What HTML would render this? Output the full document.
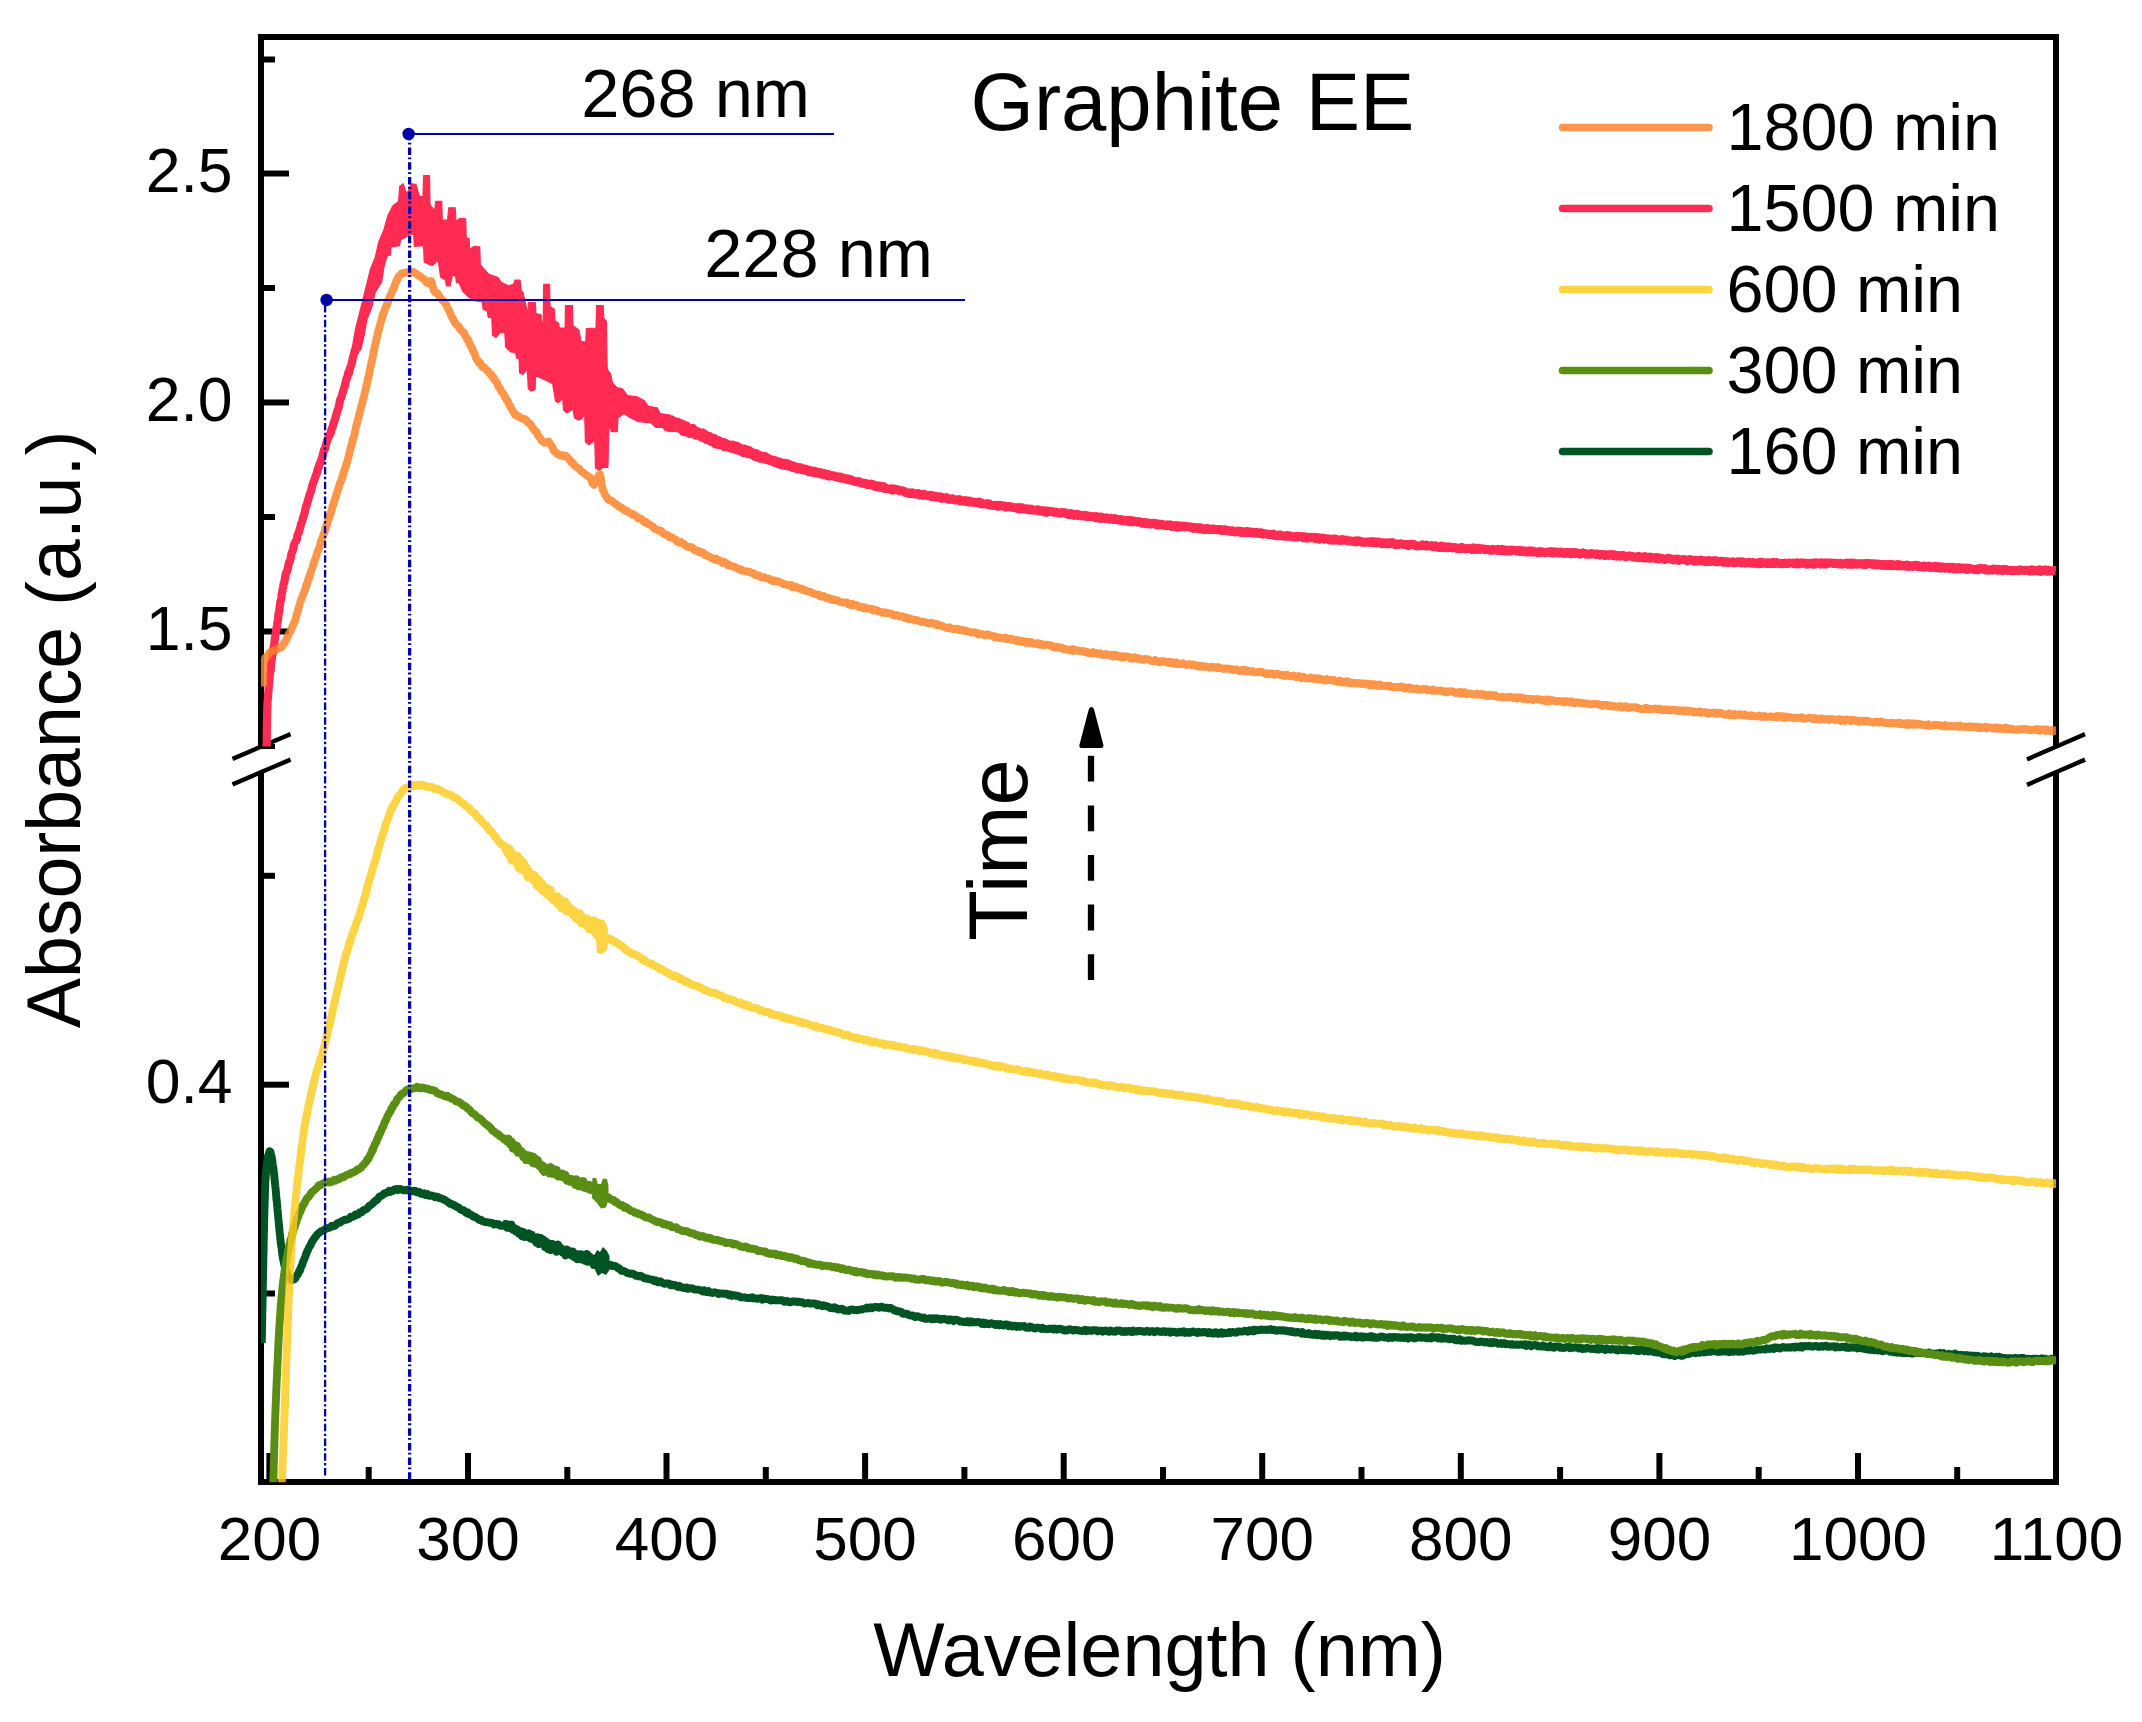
<!DOCTYPE html>
<html lang="en"><head><meta charset="utf-8"><title>Graphite EE absorbance</title>
<style>html,body{margin:0;padding:0;background:#fff}svg{display:block}</style></head>
<body>
<svg width="2142" height="1722" viewBox="0 0 2142 1722" font-family="'Liberation Sans', Arial, sans-serif" fill="#000">
<rect width="2142" height="1722" fill="#fff"/>
<g stroke="#000" stroke-width="6" fill="none" stroke-linecap="butt">
<path d="M261,749 V37 H2056 V747"/>
<path d="M261,771 V1482 H2056 V772"/>
<path d="M258,37 H2059 M258,1482 H2059"/>
<path d="M264,59.5 H275"/>
<path d="M264,173.5 H289"/>
<path d="M264,288 H275"/>
<path d="M264,402.5 H289"/>
<path d="M264,517 H275"/>
<path d="M264,631.5 H289"/>
<path d="M264,746.5 H275" stroke-width="5"/>
<path d="M264,875.8 H275"/>
<path d="M264,1084.7 H289"/>
<path d="M264,1293.5 H275"/>
<path d="M269.4,1479 V1453"/>
<path d="M368.7,1479 V1467"/>
<path d="M468.0,1479 V1453"/>
<path d="M567.3,1479 V1467"/>
<path d="M666.5,1479 V1453"/>
<path d="M765.8,1479 V1467"/>
<path d="M865.1,1479 V1453"/>
<path d="M964.4,1479 V1467"/>
<path d="M1063.7,1479 V1453"/>
<path d="M1163.0,1479 V1467"/>
<path d="M1262.2,1479 V1453"/>
<path d="M1361.5,1479 V1467"/>
<path d="M1460.8,1479 V1453"/>
<path d="M1560.1,1479 V1467"/>
<path d="M1659.4,1479 V1453"/>
<path d="M1758.7,1479 V1467"/>
<path d="M1858.0,1479 V1453"/>
<path d="M1957.2,1479 V1467"/>
</g>
<g stroke="#000" stroke-width="4.4" stroke-linecap="square">
<path d="M234.5,758 L288.5,735 M234.5,783.5 L288.5,760.5"/>
<path d="M2029,758.5 L2083,735 M2029,784 L2083,760.5"/>
</g>
<defs><clipPath id="cp"><rect x="261" y="30" width="1795" height="1455"/></clipPath></defs>
<g clip-path="url(#cp)">
<polyline points="261.8,1342.9 261.8,1341.3 261.8,1340.8 261.9,1339.7 261.9,1338.6 261.9,1338.0 261.9,1336.4 261.9,1334.6 262.0,1334.0 262.0,1333.0 262.0,1332.0 262.0,1331.3 262.0,1329.4 262.1,1328.1 262.1,1327.3 262.1,1326.7 262.1,1325.5 262.1,1324.2 262.2,1323.1 262.2,1322.4 262.2,1321.6 262.2,1319.8 262.3,1318.2 262.3,1317.8 262.3,1316.5 262.3,1315.1 262.3,1315.1 262.3,1314.0 262.3,1312.9 262.4,1311.4 262.4,1310.1 262.4,1309.1 262.4,1308.6 262.5,1307.5 262.5,1306.3 262.5,1305.7 262.5,1304.5 262.5,1302.9 262.6,1301.9 262.6,1300.9 262.6,1299.9 262.6,1298.7 262.6,1297.7 262.7,1297.2 262.7,1295.6 262.7,1294.1 262.7,1293.3 262.8,1291.9 262.8,1290.4 262.8,1290.0 262.8,1288.6 262.8,1286.6 262.9,1285.8 262.9,1284.5 262.9,1283.8 262.9,1282.3 263.0,1280.4 263.0,1280.2 263.0,1278.9 263.0,1277.6 263.0,1276.8 263.1,1276.1 263.1,1275.0 263.1,1273.8 263.1,1273.1 263.1,1271.1 263.2,1270.9 263.2,1269.9 263.2,1268.3 263.2,1267.6 263.2,1266.5 263.3,1265.5 263.3,1264.8 263.3,1263.5 263.3,1262.2 263.3,1260.8 263.4,1260.2 263.4,1259.1 263.4,1257.1 263.4,1256.2 263.4,1255.1 263.5,1254.0 263.5,1253.8 263.5,1252.5 263.5,1251.9 263.6,1250.4 263.6,1249.4 263.6,1248.3 263.6,1247.3 263.6,1246.5 263.6,1245.4 263.7,1244.3 263.7,1243.8 263.7,1242.1 263.7,1240.8 263.8,1239.5 263.8,1239.5 263.8,1238.3 263.8,1237.2 263.8,1236.2 263.9,1235.2 263.9,1234.8 263.9,1233.6 263.9,1232.3 263.9,1231.6 264.0,1230.5 264.0,1229.8 264.0,1228.4 264.1,1227.2 264.1,1226.0 264.1,1224.9 264.1,1223.9 264.1,1222.5 264.2,1222.1 264.2,1220.9 264.2,1219.6 264.2,1218.3 264.3,1217.1 264.3,1215.9 264.3,1214.6 264.4,1213.8 264.4,1212.7 264.4,1211.0 264.5,1209.3 264.5,1208.8 264.5,1207.4 264.6,1206.5 264.6,1205.9 264.6,1204.3 264.7,1202.7 264.7,1201.6 264.7,1200.4 264.8,1199.3 264.8,1198.1 264.8,1198.2 264.9,1196.7 264.9,1195.6 264.9,1194.1 265.0,1192.2 265.0,1190.9 265.1,1189.2 265.1,1188.8 265.1,1187.7 265.2,1186.6 265.2,1185.4 265.3,1184.3 265.3,1183.0 265.4,1182.1 265.4,1180.3 265.5,1179.0 265.6,1178.0 265.7,1176.7 265.8,1175.9 265.8,1174.1 265.9,1174.2 266.0,1172.6 266.1,1171.6 266.1,1170.6 266.3,1169.4 266.4,1168.3 266.5,1167.1 266.6,1165.4 266.8,1165.3 266.9,1164.2 267.0,1163.2 267.1,1162.1 267.3,1160.9 267.5,1158.9 267.7,1157.7 268.0,1156.5 268.3,1154.9 268.6,1154.3 269.0,1153.2 269.3,1152.2 269.6,1151.2 270.5,1151.9 270.7,1152.9 270.8,1154.0 271.0,1155.1 271.4,1156.1 271.7,1156.8 271.9,1158.8 272.1,1159.3 272.3,1160.3 272.4,1161.4 272.6,1163.3 272.7,1164.4 272.9,1165.4 273.1,1166.0 273.3,1167.4 273.5,1168.3 273.5,1169.5 273.6,1170.6 273.8,1171.5 273.9,1173.2 274.1,1173.7 274.2,1174.8 274.3,1176.0 274.4,1177.1 274.5,1178.7 274.6,1179.8 274.8,1181.1 274.9,1182.4 275.0,1183.6 275.2,1184.1 275.3,1185.8 275.4,1186.8 275.5,1187.5 275.6,1188.8 275.7,1190.4 275.9,1191.6 276.0,1193.6 276.1,1195.2 276.2,1195.6 276.3,1197.6 276.4,1198.9 276.5,1200.0 276.7,1200.3 276.8,1201.2 276.9,1202.5 277.0,1203.6 277.1,1205.0 277.2,1206.0 277.3,1207.0 277.4,1208.8 277.5,1210.0 277.6,1210.8 277.8,1212.4 277.9,1214.0 278.0,1214.1 278.1,1215.1 278.1,1216.2 278.2,1217.8 278.4,1218.8 278.5,1219.9 278.6,1220.7 278.7,1221.4 278.7,1222.5 278.8,1223.6 278.9,1224.2 279.0,1225.2 279.1,1226.3 279.2,1227.9 279.3,1228.3 279.4,1229.6 279.5,1230.7 279.6,1231.8 279.7,1232.8 279.8,1233.3 280.0,1234.6 280.1,1236.0 280.2,1237.3 280.3,1238.6 280.4,1239.8 280.6,1240.1 280.7,1241.3 280.7,1242.4 280.9,1243.9 281.0,1244.6 281.2,1245.3 281.3,1246.8 281.5,1247.4 281.7,1248.5 281.8,1249.9 281.8,1251.3 282.0,1252.1 282.2,1253.2 282.4,1255.1 282.6,1255.7 282.7,1256.8 282.8,1257.9 283.1,1259.2 283.3,1259.7 283.5,1261.0 283.8,1262.3 284.0,1263.4 284.3,1265.2 284.7,1266.1 285.0,1267.7 285.4,1268.7 285.7,1270.1 286.0,1271.6 286.6,1272.4 287.2,1273.9 287.9,1275.4 288.5,1276.7 289.1,1277.9 290.3,1278.6 291.5,1280.2 292.8,1279.7 294.0,1279.4 295.2,1278.4 295.8,1277.2 296.4,1276.0 297.7,1274.6 298.3,1273.3 298.9,1271.9 299.5,1270.3 300.1,1270.3 300.4,1269.0 300.7,1267.8 301.3,1266.7 301.9,1265.5 302.5,1263.6 302.8,1262.6 303.1,1261.6 303.8,1260.2 304.5,1258.5 305.2,1257.1 305.5,1255.9 305.7,1254.7 306.2,1254.2 306.7,1252.4 307.2,1251.2 307.7,1250.7 308.3,1249.1 309.1,1247.4 309.9,1246.0 310.8,1244.7 311.2,1243.5 311.6,1242.4 312.5,1241.2 313.4,1239.6 314.3,1238.3 315.3,1237.2 316.2,1235.9 317.2,1234.5 318.2,1233.6 319.2,1232.7 320.3,1231.9 321.3,1231.1 322.4,1230.7 323.5,1230.4 324.6,1229.6 325.7,1228.8 326.9,1228.5 328.0,1228.1 329.2,1227.7 330.4,1227.4 331.6,1225.9 332.9,1226.0 334.2,1226.1 335.5,1225.4 336.9,1223.6 338.4,1222.9 339.9,1222.7 341.5,1221.3 343.0,1220.8 344.6,1219.7 346.1,1219.9 347.7,1219.3 349.2,1218.7 350.8,1216.8 352.3,1217.0 353.8,1216.2 355.3,1214.6 356.8,1215.0 358.4,1214.3 359.1,1213.3 359.9,1212.3 361.5,1212.4 363.0,1210.6 364.6,1209.6 366.2,1209.3 367.7,1208.0 368.5,1206.9 369.2,1205.8 370.7,1205.1 372.1,1204.1 373.4,1202.7 374.7,1201.4 375.9,1200.5 377.1,1200.0 377.9,1198.9 378.7,1197.8 379.4,1196.7 380.6,1196.2 381.8,1195.7 383.0,1194.7 384.2,1193.3 385.5,1193.1 386.7,1192.9 387.9,1192.2 389.2,1190.9 390.4,1191.9 391.6,1191.2 392.8,1191.1 394.0,1189.5 395.2,1189.5 396.4,1189.0 397.7,1190.1 398.9,1189.2 400.1,1188.9 401.3,1189.4 402.5,1189.8 403.6,1190.2 404.8,1190.3 405.9,1190.3 407.1,1189.6 408.3,1189.6 409.7,1191.1 411.1,1190.8 412.8,1191.4 414.4,1190.8 415.6,1191.0 416.9,1192.4 418.1,1192.2 419.4,1192.0 420.7,1193.7 421.9,1193.6 423.2,1194.2 424.4,1193.4 425.7,1195.0 427.4,1194.1 429.2,1195.8 430.9,1195.5 432.5,1195.7 433.7,1196.3 434.9,1197.3 436.1,1196.5 437.6,1196.8 439.0,1198.0 440.4,1198.1 441.7,1198.5 443.0,1199.2 444.3,1199.6 445.5,1200.5 447.0,1201.5 448.4,1202.2 449.9,1203.8 451.3,1203.8 452.5,1204.8 453.7,1205.0 454.9,1205.9 456.1,1206.1 457.3,1207.1 458.8,1207.5 460.3,1209.5 461.8,1210.0 463.3,1210.2 464.8,1211.4 466.2,1213.0 467.7,1212.4 469.1,1214.3 470.6,1214.5 472.0,1215.4 473.5,1216.8 475.0,1216.8 476.4,1217.8 477.9,1218.8 479.4,1220.0 480.8,1219.7 482.3,1221.1 483.8,1221.5 485.2,1222.0 486.7,1222.2 488.2,1222.5 489.6,1222.4 491.1,1222.9 492.5,1223.2 494.0,1224.5 495.4,1223.9 496.9,1224.0 498.3,1224.1 499.8,1225.5 501.3,1225.8 502.7,1225.7 504.2,1226.0 505.6,1223.8 507.1,1227.7 508.5,1224.6 510.0,1227.9 511.5,1224.7 512.9,1229.6 514.4,1228.2 515.8,1231.4 517.3,1229.4 518.8,1233.7 520.2,1231.2 521.7,1236.2 523.2,1231.9 524.6,1237.0 526.1,1233.4 527.6,1236.8 529.0,1233.4 530.5,1238.5 531.9,1234.8 533.4,1239.5 534.9,1237.8 536.3,1242.6 537.8,1237.3 539.2,1244.1 540.7,1237.9 542.1,1243.4 543.6,1239.7 545.0,1246.9 546.5,1241.9 548.0,1249.0 549.4,1243.8 550.9,1250.1 552.3,1243.9 553.8,1247.9 555.2,1246.2 556.7,1251.8 558.2,1244.6 559.6,1250.8 561.1,1248.0 562.6,1252.7 564.1,1249.8 565.6,1255.5 567.1,1249.5 568.5,1253.9 570.0,1251.2 571.5,1255.4 572.9,1251.5 574.4,1257.3 575.8,1253.9 577.3,1259.1 578.7,1254.2 580.1,1259.3 581.5,1254.4 582.9,1259.7 584.3,1255.8 585.7,1261.0 587.1,1254.0 588.4,1261.8 589.8,1256.6 591.2,1261.2 592.5,1259.8 593.8,1264.9 595.1,1258.5 596.4,1263.8 598.0,1262.5 599.5,1262.7 601.1,1262.4 602.4,1264.0 603.8,1264.3 605.1,1264.3 606.9,1264.7 608.7,1265.3 610.3,1264.7 611.9,1266.1 613.5,1265.8 615.1,1266.0 616.5,1266.9 617.9,1268.3 619.1,1268.2 620.3,1269.7 621.7,1270.8 623.0,1270.8 624.3,1271.2 625.5,1271.8 626.7,1272.7 628.0,1273.2 629.2,1273.4 630.5,1273.9 631.7,1273.4 633.2,1274.0 634.7,1274.6 636.2,1275.8 637.7,1275.6 638.9,1276.4 640.2,1275.8 641.5,1276.3 642.7,1277.0 644.0,1278.0 645.2,1278.4 646.4,1278.7 647.7,1278.4 648.9,1279.1 650.1,1279.3 651.6,1279.7 653.0,1279.6 654.5,1281.2 655.9,1280.5 657.4,1282.1 658.8,1282.4 660.3,1281.3 661.8,1282.4 663.2,1283.3 664.7,1283.9 666.1,1283.4 667.6,1283.5 669.0,1283.7 670.5,1285.2 671.9,1284.4 673.4,1285.3 674.9,1284.9 676.3,1285.9 677.8,1286.9 679.2,1285.9 680.7,1287.3 682.2,1287.1 683.6,1288.0 685.1,1288.0 686.6,1287.5 688.0,1288.9 689.5,1288.5 691.0,1288.1 692.4,1288.3 693.9,1289.4 695.3,1289.6 696.8,1289.6 698.3,1289.6 699.7,1290.1 701.2,1290.3 702.6,1291.4 704.1,1290.3 705.5,1291.7 707.0,1292.1 708.5,1291.1 709.9,1292.6 711.4,1292.5 712.8,1293.0 714.3,1292.2 715.7,1292.6 717.2,1292.8 718.6,1294.0 720.1,1293.5 721.6,1293.4 723.0,1293.7 724.5,1293.7 725.9,1293.6 727.4,1293.9 728.8,1295.3 730.3,1294.6 731.7,1295.9 733.2,1295.0 734.7,1295.3 736.1,1295.9 737.6,1295.6 739.0,1296.1 740.5,1297.2 741.9,1297.3 743.4,1297.4 744.9,1297.3 746.3,1297.9 747.8,1298.1 749.2,1297.7 750.7,1298.1 752.2,1297.2 753.6,1298.4 755.1,1298.1 756.6,1298.7 758.0,1298.7 759.5,1298.3 761.0,1298.0 762.4,1299.6 763.9,1298.4 765.3,1299.1 766.8,1299.0 768.3,1299.1 769.7,1300.0 771.2,1300.5 772.6,1299.5 774.1,1300.3 775.5,1299.9 777.0,1300.4 778.4,1300.3 779.9,1300.1 781.4,1300.2 782.8,1300.4 784.3,1301.7 785.7,1301.2 787.2,1300.9 788.6,1302.1 790.1,1302.4 791.6,1301.6 793.0,1301.3 794.5,1301.5 795.9,1301.5 797.4,1302.0 798.9,1301.7 800.3,1302.1 801.8,1302.2 803.3,1302.9 804.7,1303.5 806.2,1303.4 807.7,1303.0 809.1,1303.2 810.6,1303.6 812.0,1303.5 813.5,1303.6 814.7,1303.4 815.9,1304.0 817.2,1305.3 818.4,1304.2 819.6,1305.0 820.9,1305.4 822.1,1306.1 823.4,1305.3 824.6,1305.7 825.9,1305.9 827.4,1306.5 828.8,1306.9 830.3,1308.0 831.8,1308.1 833.0,1308.4 834.3,1307.3 835.5,1307.6 836.8,1308.9 838.0,1309.5 839.3,1309.0 840.5,1309.4 842.0,1308.7 843.4,1309.6 844.6,1310.6 845.8,1310.6 847.2,1310.7 848.5,1311.0 849.9,1309.8 851.4,1309.5 852.8,1309.5 854.2,1310.0 855.7,1310.1 857.1,1310.4 858.7,1309.8 860.2,1309.5 861.8,1309.5 863.5,1308.8 865.2,1308.6 866.9,1307.5 868.7,1308.4 870.5,1307.3 871.7,1308.3 873.0,1307.7 874.2,1307.1 875.5,1306.8 876.8,1307.0 878.1,1307.6 879.5,1307.7 880.8,1306.8 882.2,1306.8 883.6,1307.7 885.0,1307.9 886.4,1307.7 887.7,1307.7 889.1,1308.5 890.5,1307.8 891.8,1308.7 893.2,1309.3 894.5,1310.5 895.9,1310.5 897.2,1311.4 898.6,1311.3 899.9,1311.5 901.3,1312.0 902.6,1313.7 904.1,1313.8 905.5,1313.6 906.9,1313.6 908.4,1314.8 910.0,1315.5 911.5,1315.5 912.7,1315.5 913.9,1316.4 915.1,1317.1 916.3,1316.2 917.9,1316.2 919.5,1317.0 921.1,1317.5 922.6,1318.1 924.0,1317.6 925.5,1318.8 927.0,1318.8 928.4,1318.6 930.4,1318.1 931.9,1319.3 933.5,1318.3 934.8,1319.2 936.1,1318.3 937.4,1318.4 938.7,1319.3 940.0,1318.7 941.2,1319.8 942.4,1319.2 943.6,1318.8 944.9,1319.0 946.1,1319.4 947.3,1319.9 948.5,1320.5 949.7,1319.3 950.9,1319.9 952.2,1319.7 953.5,1321.0 954.8,1319.8 956.1,1319.8 957.3,1320.0 958.6,1320.6 959.9,1321.5 961.2,1321.6 962.4,1321.5 963.7,1322.1 965.0,1322.1 966.2,1321.3 967.4,1321.1 968.6,1322.5 969.8,1322.3 971.0,1321.3 972.2,1322.4 973.4,1322.0 974.7,1322.2 975.9,1322.2 977.1,1322.1 978.3,1321.9 979.5,1322.5 980.7,1322.7 981.9,1323.8 983.1,1322.6 984.3,1324.0 985.6,1322.9 986.8,1323.3 988.0,1324.1 989.2,1324.2 990.4,1323.7 991.6,1323.2 992.9,1324.0 994.1,1324.0 995.3,1325.0 996.5,1323.9 997.7,1324.3 998.9,1325.3 1000.2,1324.0 1001.4,1324.7 1002.6,1325.4 1003.8,1325.5 1005.1,1324.4 1006.3,1324.5 1007.5,1324.7 1008.7,1326.2 1010.0,1325.2 1011.2,1326.1 1012.4,1326.5 1013.7,1325.7 1015.0,1325.7 1016.3,1326.9 1017.6,1326.5 1018.8,1326.0 1020.1,1326.8 1021.4,1326.3 1022.7,1326.4 1024.0,1326.0 1025.3,1327.4 1026.5,1327.7 1027.8,1327.4 1029.1,1328.0 1030.3,1326.6 1031.5,1327.1 1032.8,1327.5 1034.0,1328.4 1035.2,1328.5 1036.4,1327.7 1037.6,1327.6 1038.8,1327.9 1040.1,1328.1 1041.3,1328.9 1042.5,1327.8 1043.7,1328.9 1044.9,1328.9 1046.1,1329.2 1047.3,1329.1 1048.5,1329.0 1049.7,1328.6 1051.0,1328.7 1052.2,1328.8 1053.4,1329.5 1054.6,1328.5 1055.8,1328.8 1057.0,1329.7 1058.2,1329.0 1059.4,1328.8 1060.6,1328.8 1061.8,1329.7 1063.0,1329.4 1064.3,1330.5 1065.6,1330.4 1066.8,1330.6 1068.1,1329.5 1069.4,1329.3 1070.7,1329.4 1072.0,1330.1 1073.2,1330.5 1074.5,1330.1 1075.8,1329.8 1077.1,1330.1 1078.4,1330.5 1079.6,1330.7 1080.9,1330.8 1082.2,1331.0 1083.5,1330.7 1084.8,1329.9 1086.1,1331.1 1087.3,1330.2 1088.6,1330.7 1089.9,1330.4 1091.2,1331.0 1092.5,1330.2 1093.7,1330.3 1095.0,1330.3 1096.3,1330.2 1097.6,1331.4 1098.9,1330.9 1100.1,1330.6 1101.4,1330.7 1102.7,1331.7 1104.0,1330.9 1105.3,1330.5 1106.5,1331.4 1107.8,1331.2 1109.1,1331.8 1110.4,1330.4 1111.7,1331.0 1113.0,1331.5 1114.2,1331.6 1115.5,1331.7 1116.8,1330.4 1118.1,1330.8 1119.4,1330.5 1120.6,1330.7 1121.9,1331.9 1123.2,1331.3 1124.5,1331.9 1125.8,1331.0 1127.0,1331.8 1128.3,1331.2 1129.6,1330.9 1130.9,1331.8 1132.1,1332.1 1133.4,1330.7 1134.6,1331.5 1135.9,1331.6 1137.1,1331.0 1138.4,1331.2 1139.6,1330.9 1140.9,1331.0 1142.1,1331.1 1143.4,1331.7 1144.7,1331.8 1145.9,1331.1 1147.2,1330.8 1148.4,1331.3 1149.6,1331.9 1150.8,1331.1 1152.0,1331.4 1153.2,1331.2 1154.4,1332.2 1155.7,1331.8 1156.9,1331.0 1158.1,1331.1 1159.3,1331.6 1160.5,1331.9 1161.7,1332.0 1162.9,1331.2 1164.1,1331.3 1165.3,1332.2 1166.6,1331.7 1167.8,1331.5 1169.0,1331.6 1170.2,1332.7 1171.4,1331.6 1172.6,1332.1 1173.8,1331.7 1175.0,1331.9 1176.2,1332.6 1177.4,1332.8 1178.7,1331.8 1179.9,1331.6 1181.1,1332.4 1182.3,1331.6 1183.5,1331.3 1184.8,1332.8 1186.1,1332.0 1187.3,1332.7 1188.6,1332.0 1189.8,1332.8 1191.1,1332.2 1192.3,1331.7 1193.6,1331.5 1194.8,1332.4 1196.1,1332.5 1197.5,1333.0 1198.8,1331.7 1200.2,1332.6 1201.5,1332.2 1202.9,1332.5 1204.2,1331.9 1205.6,1332.2 1206.8,1332.6 1208.1,1333.3 1209.4,1332.1 1210.6,1332.7 1211.9,1333.3 1213.2,1333.6 1214.4,1332.4 1215.7,1332.3 1217.0,1333.6 1218.4,1333.7 1219.8,1332.9 1221.3,1332.2 1222.7,1333.6 1224.1,1332.7 1225.4,1333.4 1226.8,1332.9 1228.2,1333.2 1229.5,1332.0 1230.9,1332.9 1232.3,1331.9 1233.7,1332.1 1235.1,1332.7 1236.5,1332.6 1237.8,1331.4 1239.2,1331.4 1240.5,1331.6 1241.9,1331.6 1243.2,1331.3 1244.4,1330.8 1245.6,1330.9 1246.9,1331.6 1248.1,1331.7 1249.3,1330.3 1250.5,1331.0 1251.7,1331.2 1252.9,1329.9 1254.2,1331.1 1255.5,1329.8 1256.8,1330.4 1258.2,1330.1 1259.6,1330.1 1261.0,1329.5 1262.4,1329.6 1263.8,1329.8 1265.2,1329.6 1266.6,1330.0 1268.0,1329.6 1269.3,1329.7 1270.6,1329.1 1271.8,1330.1 1273.1,1330.0 1274.4,1329.7 1275.7,1330.6 1277.0,1330.8 1278.3,1330.4 1279.6,1330.1 1280.9,1330.6 1282.2,1330.2 1283.5,1330.3 1284.8,1330.9 1286.1,1330.5 1287.4,1331.2 1288.7,1331.5 1290.1,1330.9 1291.4,1332.0 1292.7,1331.2 1294.1,1332.4 1295.3,1332.6 1296.5,1332.3 1297.7,1331.7 1298.9,1332.5 1300.1,1332.5 1301.3,1333.5 1302.5,1332.3 1303.8,1333.6 1305.0,1334.0 1306.3,1333.7 1307.5,1334.0 1308.8,1333.1 1310.0,1334.5 1311.3,1333.9 1312.5,1334.8 1313.8,1334.9 1315.0,1333.9 1316.2,1335.0 1317.4,1335.3 1318.6,1334.1 1319.8,1334.7 1321.1,1335.4 1322.5,1334.5 1323.8,1335.8 1325.1,1334.9 1326.4,1335.8 1327.8,1334.8 1329.1,1335.5 1330.3,1336.2 1331.5,1335.1 1332.7,1335.3 1333.9,1335.7 1335.1,1335.5 1336.3,1335.1 1337.5,1335.4 1338.7,1335.4 1339.9,1336.7 1341.2,1336.3 1342.4,1336.7 1343.6,1335.6 1344.8,1336.6 1346.0,1335.6 1347.2,1336.3 1348.4,1336.5 1349.6,1336.1 1350.8,1337.0 1352.0,1336.5 1353.2,1336.6 1354.4,1337.1 1355.6,1335.9 1356.8,1337.4 1358.0,1336.8 1359.2,1336.5 1360.4,1337.2 1361.6,1336.4 1362.8,1337.6 1364.0,1337.0 1365.3,1336.6 1366.5,1337.3 1367.7,1336.9 1368.9,1336.5 1370.2,1337.4 1371.4,1336.3 1372.6,1337.6 1373.8,1336.7 1375.1,1337.4 1376.3,1338.0 1377.5,1337.4 1378.8,1337.5 1380.0,1337.0 1381.2,1336.5 1382.4,1336.6 1383.6,1336.8 1384.8,1337.6 1386.0,1337.4 1387.2,1337.5 1388.4,1338.2 1389.7,1337.0 1390.9,1337.1 1392.1,1337.9 1393.3,1336.9 1394.5,1336.9 1395.7,1337.5 1396.9,1337.1 1398.1,1337.5 1399.3,1337.3 1400.6,1337.9 1401.8,1337.9 1403.0,1337.3 1404.2,1338.0 1405.4,1337.7 1406.6,1337.2 1407.9,1338.5 1409.1,1337.4 1410.4,1337.2 1411.7,1337.1 1413.0,1338.0 1414.3,1338.3 1415.6,1338.2 1416.9,1337.5 1418.2,1337.3 1419.4,1336.9 1420.7,1337.9 1422.0,1337.7 1423.3,1337.4 1424.6,1337.8 1425.9,1337.5 1427.2,1338.3 1428.4,1338.0 1429.6,1337.2 1430.8,1338.3 1432.0,1336.9 1433.2,1337.7 1434.4,1337.5 1435.6,1337.3 1436.8,1337.1 1438.1,1338.3 1439.3,1337.2 1440.6,1338.1 1441.8,1338.8 1443.0,1337.6 1444.3,1337.8 1445.6,1338.6 1446.8,1338.6 1448.1,1338.9 1449.3,1339.3 1450.6,1338.5 1451.8,1338.8 1453.0,1339.0 1454.2,1338.7 1455.4,1340.2 1456.8,1340.2 1458.1,1340.2 1459.5,1339.2 1460.8,1340.7 1462.2,1340.7 1463.6,1340.4 1465.0,1340.9 1466.5,1340.6 1467.9,1340.3 1469.3,1340.3 1470.7,1340.6 1472.1,1340.4 1473.6,1341.0 1475.0,1341.7 1476.4,1341.8 1477.8,1342.1 1479.2,1342.0 1480.5,1341.4 1481.9,1341.9 1483.3,1341.8 1484.6,1342.5 1485.9,1342.2 1487.2,1341.9 1488.5,1342.6 1489.8,1343.2 1491.1,1342.1 1492.4,1343.2 1493.7,1341.9 1495.0,1342.4 1496.2,1342.5 1497.4,1343.4 1498.6,1343.8 1499.8,1343.6 1501.0,1343.0 1502.2,1343.9 1503.4,1343.2 1504.6,1343.1 1505.8,1344.3 1507.0,1343.9 1508.2,1344.1 1509.5,1344.1 1510.8,1344.7 1512.1,1344.0 1513.4,1344.7 1514.7,1344.6 1515.9,1344.9 1517.2,1344.4 1518.5,1344.9 1519.8,1344.8 1521.1,1344.4 1522.4,1344.4 1523.6,1345.1 1524.9,1344.4 1526.2,1345.8 1527.4,1344.6 1528.7,1344.5 1530.0,1344.8 1531.2,1346.2 1532.5,1345.3 1533.8,1345.1 1535.0,1345.0 1536.3,1345.1 1537.6,1346.2 1538.8,1346.2 1540.1,1346.4 1541.4,1346.6 1542.6,1345.6 1543.9,1346.5 1545.1,1346.2 1546.4,1347.0 1547.7,1347.1 1548.9,1347.3 1550.2,1346.0 1551.5,1347.4 1552.7,1347.5 1554.0,1347.7 1555.2,1346.4 1556.5,1346.6 1557.7,1346.5 1559.0,1346.5 1560.2,1347.8 1561.4,1347.8 1562.6,1347.6 1563.9,1348.0 1565.1,1347.7 1566.3,1347.2 1567.6,1347.0 1568.8,1347.0 1570.0,1348.2 1571.2,1347.3 1572.5,1347.6 1573.7,1347.8 1574.9,1347.2 1576.1,1347.6 1577.4,1347.7 1578.6,1348.5 1579.8,1347.9 1581.0,1347.9 1582.2,1349.0 1583.4,1348.3 1584.6,1348.9 1585.9,1348.6 1587.1,1347.7 1588.3,1348.4 1589.5,1348.4 1590.7,1349.0 1591.9,1348.4 1593.1,1349.0 1594.4,1348.8 1595.6,1348.3 1596.8,1349.4 1598.0,1348.2 1599.3,1349.4 1600.5,1348.4 1601.7,1348.2 1602.9,1348.6 1604.2,1349.5 1605.4,1349.9 1606.6,1348.4 1607.8,1349.2 1609.1,1349.2 1610.3,1349.8 1611.6,1348.9 1612.9,1349.4 1614.1,1349.2 1615.4,1350.0 1616.7,1349.2 1617.9,1350.3 1619.2,1349.3 1620.5,1349.2 1621.7,1350.1 1623.0,1349.8 1624.2,1349.2 1625.4,1350.1 1626.6,1349.3 1627.8,1350.4 1629.0,1350.3 1630.2,1350.5 1631.4,1350.3 1632.6,1349.9 1633.9,1350.0 1635.2,1350.1 1636.5,1350.9 1637.9,1349.7 1639.2,1351.0 1640.5,1349.7 1641.8,1350.0 1643.0,1350.2 1644.3,1351.3 1645.7,1350.7 1647.0,1350.7 1648.4,1351.6 1649.7,1350.7 1651.2,1351.3 1652.6,1351.6 1654.1,1352.2 1655.6,1352.4 1657.0,1352.5 1658.4,1352.4 1659.8,1352.6 1661.2,1352.6 1662.5,1354.0 1663.8,1354.0 1665.1,1354.4 1666.4,1353.8 1667.9,1354.5 1669.5,1355.3 1671.0,1355.2 1672.3,1354.6 1673.6,1355.3 1674.8,1356.1 1676.4,1355.1 1678.0,1355.1 1679.5,1355.2 1681.0,1355.7 1682.6,1355.8 1684.3,1354.5 1685.9,1354.2 1687.5,1354.1 1688.9,1353.7 1690.4,1353.6 1691.7,1352.7 1693.0,1352.6 1694.3,1352.1 1695.8,1353.2 1697.2,1352.6 1698.7,1351.4 1700.2,1352.6 1701.5,1351.2 1702.8,1351.6 1704.0,1352.5 1705.3,1352.2 1706.6,1352.1 1707.9,1351.5 1709.2,1351.1 1710.4,1351.8 1711.6,1350.9 1712.9,1351.1 1714.1,1351.4 1715.4,1350.8 1716.6,1351.4 1717.8,1352.0 1719.1,1351.8 1720.3,1351.5 1721.6,1351.7 1722.9,1351.4 1724.2,1350.9 1725.6,1351.6 1726.9,1351.3 1728.2,1351.8 1729.5,1352.1 1730.8,1351.3 1732.1,1351.5 1733.4,1351.8 1734.8,1351.2 1736.1,1350.9 1737.4,1351.6 1738.8,1351.8 1740.1,1351.6 1741.5,1351.5 1742.8,1351.7 1744.1,1351.3 1745.4,1351.1 1746.6,1350.7 1747.9,1350.4 1749.2,1350.8 1750.5,1349.9 1751.8,1350.3 1753.1,1350.7 1754.5,1350.5 1755.9,1350.2 1757.2,1349.4 1758.6,1349.6 1759.9,1349.5 1761.3,1349.6 1762.7,1349.1 1764.1,1349.4 1765.4,1349.6 1766.8,1348.3 1768.2,1348.9 1769.5,1349.0 1770.8,1348.3 1772.1,1348.3 1773.5,1349.0 1774.8,1347.4 1776.1,1348.1 1777.4,1347.4 1778.7,1348.3 1780.1,1348.5 1781.4,1347.7 1782.7,1347.0 1784.1,1347.6 1785.4,1347.5 1786.7,1347.7 1788.1,1347.3 1789.4,1347.5 1790.7,1347.7 1791.9,1347.2 1793.2,1346.9 1794.5,1347.7 1795.8,1346.5 1797.1,1347.2 1798.4,1346.7 1799.7,1347.2 1801.0,1346.1 1802.3,1347.5 1803.6,1346.4 1804.9,1345.9 1806.2,1346.2 1807.5,1346.4 1808.8,1345.7 1810.1,1346.3 1811.4,1346.3 1812.7,1346.7 1813.9,1346.1 1815.1,1346.0 1816.4,1345.9 1817.6,1346.7 1818.9,1347.0 1820.1,1346.4 1821.4,1345.9 1822.6,1346.8 1823.9,1346.2 1825.2,1345.9 1826.5,1345.8 1827.8,1346.9 1829.1,1346.9 1830.4,1346.7 1831.7,1346.5 1832.9,1346.6 1834.2,1346.2 1835.4,1347.4 1836.7,1346.5 1837.9,1347.0 1839.2,1347.4 1840.4,1347.4 1841.6,1346.9 1842.9,1346.7 1844.1,1347.2 1845.3,1346.6 1846.5,1347.8 1847.8,1347.2 1849.0,1348.0 1850.2,1347.2 1851.4,1347.5 1852.6,1347.3 1853.9,1347.7 1855.1,1347.4 1856.3,1347.2 1857.6,1348.5 1858.8,1347.9 1860.0,1347.9 1861.3,1348.1 1862.5,1348.5 1863.7,1348.5 1865.0,1349.0 1866.2,1349.1 1867.5,1348.7 1868.7,1349.8 1870.0,1349.8 1871.2,1348.6 1872.5,1350.0 1873.7,1350.2 1875.0,1350.2 1876.2,1349.3 1877.5,1350.5 1878.7,1350.3 1880.0,1349.5 1881.2,1349.6 1882.5,1351.3 1883.8,1350.9 1885.0,1350.4 1886.3,1350.3 1887.5,1350.5 1888.8,1350.8 1890.0,1351.8 1891.3,1351.3 1892.5,1351.1 1893.8,1352.4 1895.0,1352.3 1896.3,1351.4 1897.5,1352.7 1898.8,1352.4 1900.0,1352.7 1901.3,1352.7 1902.5,1353.1 1903.7,1353.0 1905.0,1353.2 1906.2,1352.2 1907.5,1353.0 1908.7,1352.9 1910.0,1353.2 1911.2,1352.8 1912.5,1353.6 1913.7,1353.1 1915.0,1352.7 1916.2,1352.7 1917.5,1352.5 1918.7,1353.1 1920.0,1352.5 1921.2,1353.1 1922.5,1352.7 1923.7,1353.2 1924.9,1353.3 1926.2,1353.4 1927.4,1353.9 1928.7,1352.6 1929.9,1353.9 1931.2,1353.4 1932.4,1353.5 1933.7,1353.7 1934.9,1354.1 1936.2,1353.4 1937.4,1353.5 1938.7,1354.4 1939.9,1353.0 1941.2,1354.0 1942.4,1354.0 1943.6,1353.1 1944.9,1354.1 1946.1,1354.3 1947.4,1354.8 1948.6,1353.9 1949.9,1355.0 1951.1,1354.3 1952.4,1354.4 1953.6,1355.1 1954.9,1353.8 1956.1,1355.0 1957.4,1354.9 1958.6,1354.6 1959.9,1355.5 1961.1,1354.8 1962.4,1355.1 1963.6,1355.2 1964.8,1355.7 1966.1,1354.9 1967.3,1355.4 1968.6,1355.4 1969.8,1355.7 1971.1,1356.3 1972.3,1355.5 1973.6,1356.4 1974.8,1355.8 1976.1,1356.1 1977.3,1355.8 1978.6,1356.3 1979.8,1357.1 1981.1,1356.7 1982.3,1357.0 1983.6,1356.3 1984.8,1356.4 1986.1,1356.4 1987.4,1356.9 1988.6,1357.1 1989.9,1357.4 1991.2,1356.3 1992.4,1357.4 1993.7,1357.8 1995.0,1357.3 1996.2,1356.6 1997.5,1357.1 1998.8,1356.7 2000.1,1357.0 2001.4,1358.3 2002.6,1357.8 2003.9,1358.0 2005.1,1358.2 2006.4,1358.5 2007.6,1358.1 2008.9,1358.2 2010.1,1358.2 2011.4,1358.4 2012.7,1358.3 2014.0,1358.5 2015.4,1357.8 2016.7,1358.6 2018.1,1358.3 2019.5,1358.9 2020.8,1357.9 2022.2,1358.1 2023.4,1357.9 2024.6,1359.1 2025.8,1359.4 2027.0,1359.0 2028.2,1358.6 2029.5,1359.4 2030.7,1359.4 2031.9,1359.1 2033.1,1358.6 2034.3,1358.7 2035.5,1358.9 2036.7,1358.8 2037.9,1359.0 2039.2,1359.4 2040.4,1359.9 2041.6,1358.5 2042.8,1359.4 2044.0,1358.6 2045.2,1358.7 2046.4,1359.9 2047.6,1359.5 2048.9,1360.1 2050.1,1359.4 2051.6,1358.7 2053.0,1359.3 2054.5,1359.7 2056.0,1359.6" fill="none" stroke="#005322" stroke-width="7.9" stroke-linejoin="round" stroke-linecap="butt" />
<path d="M594,1256 L597,1250 L600,1252 L603,1247 L607,1251 L609.5,1256 L609.5,1270 L606,1275 L602,1273 L598,1276 L595,1270 Z" fill="#005322"/>
<polyline points="273.3,1482.2 273.3,1481.4 273.4,1479.9 273.4,1478.1 273.4,1476.3 273.5,1475.2 273.5,1474.6 273.5,1473.5 273.6,1472.4 273.6,1471.6 273.6,1470.2 273.7,1469.4 273.7,1467.9 273.7,1466.9 273.7,1465.8 273.8,1464.1 273.8,1463.2 273.8,1462.2 273.9,1461.2 273.9,1460.3 274.0,1459.1 274.0,1457.8 274.0,1456.5 274.0,1456.4 274.1,1455.2 274.1,1454.1 274.1,1452.4 274.2,1450.7 274.2,1450.4 274.2,1449.1 274.3,1447.7 274.3,1446.9 274.3,1445.8 274.3,1444.8 274.4,1443.1 274.4,1442.7 274.4,1441.9 274.5,1440.8 274.5,1439.7 274.5,1439.4 274.6,1438.4 274.6,1437.2 274.6,1436.0 274.6,1435.3 274.7,1434.2 274.7,1432.6 274.8,1430.9 274.8,1429.7 274.8,1429.2 274.9,1428.0 274.9,1426.2 275.0,1424.3 275.0,1424.2 275.0,1422.8 275.1,1421.8 275.1,1420.7 275.1,1420.0 275.2,1419.2 275.2,1417.9 275.3,1416.0 275.3,1414.7 275.4,1413.5 275.4,1411.6 275.5,1410.3 275.5,1409.1 275.6,1408.7 275.6,1407.0 275.7,1406.1 275.7,1404.6 275.8,1403.6 275.8,1401.8 275.9,1400.4 275.9,1400.7 275.9,1399.6 276.0,1398.5 276.0,1396.8 276.1,1396.3 276.1,1395.2 276.2,1394.1 276.2,1392.9 276.2,1392.3 276.3,1390.6 276.4,1389.5 276.4,1388.5 276.4,1387.4 276.5,1386.1 276.5,1386.3 276.6,1384.8 276.6,1382.9 276.7,1381.7 276.8,1379.8 276.8,1379.3 276.9,1377.4 276.9,1376.9 277.0,1375.3 277.1,1374.2 277.1,1373.1 277.1,1372.0 277.2,1370.8 277.2,1369.2 277.3,1368.2 277.3,1366.9 277.4,1365.5 277.4,1364.2 277.5,1363.8 277.6,1363.0 277.6,1361.1 277.7,1360.6 277.7,1359.3 277.8,1358.0 277.8,1356.6 277.9,1356.2 277.9,1354.6 278.0,1352.9 278.0,1353.0 278.1,1351.8 278.1,1350.6 278.1,1349.8 278.2,1348.7 278.3,1348.0 278.3,1346.3 278.4,1344.6 278.4,1343.5 278.5,1341.8 278.6,1341.9 278.6,1340.7 278.7,1339.5 278.7,1338.2 278.8,1336.7 278.8,1335.8 278.9,1334.7 279.0,1334.3 279.0,1333.0 279.1,1331.7 279.1,1330.4 279.2,1329.2 279.3,1329.1 279.3,1327.7 279.4,1326.3 279.5,1325.6 279.5,1324.2 279.6,1322.8 279.7,1321.7 279.7,1321.4 279.8,1320.4 279.9,1318.7 280.0,1316.8 280.1,1316.0 280.2,1314.9 280.2,1313.7 280.3,1312.5 280.4,1311.4 280.5,1310.0 280.6,1308.4 280.7,1307.6 280.8,1305.7 280.9,1304.6 281.0,1303.2 281.1,1302.8 281.2,1301.6 281.2,1300.5 281.3,1300.4 281.4,1299.3 281.4,1298.3 281.5,1296.8 281.7,1296.9 281.7,1295.6 281.8,1294.4 281.9,1294.2 282.0,1292.8 282.2,1291.5 282.2,1290.2 282.3,1288.9 282.4,1288.0 282.6,1286.1 282.7,1286.0 282.9,1284.5 283.0,1282.7 283.2,1281.3 283.3,1279.9 283.5,1279.5 283.6,1277.7 283.8,1276.7 283.9,1275.7 284.0,1274.6 284.2,1273.3 284.4,1271.6 284.6,1271.3 284.8,1269.5 284.9,1268.5 285.0,1267.4 285.3,1267.1 285.4,1265.9 285.5,1264.7 285.7,1263.7 285.9,1262.1 286.1,1261.0 286.4,1260.7 286.5,1259.6 286.6,1258.6 286.8,1257.1 287.1,1256.4 287.3,1254.8 287.5,1254.5 287.6,1253.2 287.8,1252.0 288.0,1252.1 288.2,1250.8 288.3,1249.4 288.5,1249.5 288.8,1248.0 289.1,1246.0 289.4,1245.0 289.7,1243.2 290.1,1241.8 290.4,1240.2 290.8,1239.2 291.1,1238.8 291.5,1237.5 291.8,1236.1 292.0,1234.8 292.2,1233.5 292.6,1232.6 292.9,1232.4 293.1,1231.1 293.3,1229.8 293.8,1229.3 294.1,1228.2 294.3,1227.0 294.9,1226.6 295.0,1225.5 295.2,1224.5 295.4,1223.5 296.0,1223.2 296.2,1222.1 296.5,1220.9 297.1,1219.1 297.6,1217.4 298.2,1217.2 298.8,1215.2 299.1,1214.2 299.3,1213.2 299.9,1212.2 300.5,1211.5 300.9,1210.3 301.2,1209.0 301.8,1208.2 302.1,1207.2 302.5,1206.2 303.1,1204.9 303.8,1204.5 304.6,1203.2 304.9,1202.2 305.3,1201.1 306.1,1199.7 307.3,1197.9 308.5,1197.0 309.8,1195.2 311.0,1193.2 312.3,1191.6 313.5,1190.9 314.7,1189.8 315.9,1188.8 317.2,1187.5 318.4,1185.9 319.6,1184.9 320.9,1185.1 322.1,1183.9 323.3,1183.8 324.5,1182.8 325.7,1181.8 326.8,1182.2 328.0,1182.5 329.2,1181.6 330.4,1182.2 331.7,1181.9 333.0,1181.0 334.4,1179.7 335.9,1180.6 337.4,1179.3 338.9,1179.4 340.5,1177.8 342.1,1177.0 343.6,1177.3 345.2,1175.9 346.8,1174.9 348.3,1174.5 349.9,1174.2 351.4,1172.6 353.0,1172.6 354.5,1171.7 356.0,1170.9 357.4,1169.4 358.7,1169.3 360.0,1168.5 361.3,1167.5 362.5,1165.5 363.7,1164.9 364.9,1163.1 366.0,1162.1 366.6,1160.8 367.2,1159.5 367.9,1159.6 368.7,1158.5 369.4,1156.5 370.1,1155.1 370.8,1153.8 371.5,1152.4 371.9,1151.2 372.2,1150.0 372.9,1150.0 373.3,1148.7 373.6,1147.4 374.3,1145.8 375.0,1144.1 375.7,1142.8 376.4,1142.1 376.8,1140.7 377.1,1139.3 377.8,1137.8 378.4,1137.5 378.7,1136.5 378.9,1135.5 379.5,1133.9 380.0,1133.6 380.5,1132.3 381.1,1131.0 381.6,1130.0 381.9,1128.9 382.2,1127.8 382.9,1127.5 383.6,1125.6 383.9,1124.3 384.3,1123.0 385.0,1121.6 385.7,1120.7 386.4,1119.1 387.1,1117.3 387.8,1115.6 388.6,1114.5 389.3,1112.7 390.0,1112.0 390.7,1111.1 391.0,1109.8 391.4,1108.6 392.1,1108.0 392.8,1107.0 393.3,1105.6 393.8,1104.3 394.9,1103.6 395.9,1102.1 396.5,1100.9 397.0,1099.6 398.0,1098.2 399.1,1097.4 400.2,1095.7 401.3,1094.2 402.5,1093.6 403.7,1093.0 404.9,1091.9 406.1,1090.4 407.4,1089.6 408.6,1089.0 409.9,1088.7 411.1,1089.1 412.3,1088.5 413.6,1088.3 414.8,1088.0 416.0,1088.0 417.2,1086.7 418.5,1087.5 419.7,1088.2 420.9,1088.3 422.1,1087.4 423.3,1087.8 424.6,1088.5 425.8,1088.3 427.0,1088.9 428.2,1088.6 429.4,1089.5 430.6,1090.0 431.8,1090.0 432.9,1090.0 434.0,1090.5 435.2,1091.1 436.3,1092.2 437.5,1093.3 438.7,1093.5 440.0,1094.3 441.4,1094.4 442.8,1095.2 444.2,1095.9 445.7,1096.5 447.2,1095.8 448.7,1097.4 450.2,1097.5 451.7,1098.9 453.2,1098.9 454.6,1100.1 456.1,1101.4 457.5,1101.7 458.9,1101.9 460.4,1103.1 461.8,1104.0 463.3,1105.7 464.8,1105.8 466.2,1106.9 467.7,1108.7 469.1,1109.2 469.9,1110.2 470.6,1111.2 472.1,1113.1 473.5,1113.7 475.0,1114.6 476.5,1116.2 477.9,1117.6 479.4,1118.2 480.9,1119.4 482.3,1120.7 483.8,1122.2 485.2,1123.6 486.7,1124.7 488.2,1125.8 489.6,1126.8 491.1,1128.8 492.6,1130.6 494.0,1131.4 495.5,1132.6 496.9,1133.9 498.4,1134.3 499.9,1136.2 501.3,1136.8 502.8,1138.0 504.2,1139.5 505.6,1139.0 507.1,1141.7 508.5,1138.5 510.0,1144.3 511.5,1141.3 512.9,1148.6 514.4,1144.5 515.8,1149.9 517.3,1145.9 518.0,1152.8 518.8,1148.3 520.2,1153.0 521.7,1151.4 523.2,1157.1 524.6,1153.8 526.1,1160.1 527.6,1155.1 529.0,1160.3 530.5,1155.9 531.9,1161.6 532.7,1156.5 533.4,1163.3 534.9,1158.1 536.3,1163.9 537.8,1159.9 539.2,1165.9 540.6,1164.3 542.1,1169.4 543.5,1165.9 544.3,1171.9 545.0,1167.9 546.5,1171.0 547.9,1168.3 549.4,1173.4 550.8,1167.0 552.3,1173.7 553.8,1169.1 555.2,1174.5 556.7,1169.8 558.2,1176.5 559.6,1173.3 561.1,1176.7 562.6,1173.5 564.0,1177.9 565.5,1174.9 566.9,1180.6 568.4,1178.3 569.8,1181.7 571.1,1178.8 572.4,1182.1 573.7,1179.7 575.1,1184.7 576.5,1179.4 578.3,1186.1 580.1,1181.4 581.7,1186.6 583.3,1181.0 584.9,1187.8 586.3,1185.1 587.7,1188.6 589.1,1184.7 590.5,1189.9 591.9,1187.0 593.3,1190.9 594.7,1188.3 596.1,1193.6 597.4,1191.7 598.6,1192.7 599.9,1194.2 601.1,1195.0 602.4,1195.1 603.8,1195.7 605.1,1196.0 606.9,1197.0 608.7,1197.6 610.3,1199.1 611.9,1199.9 613.5,1199.9 614.3,1201.0 615.1,1202.1 616.5,1201.9 617.9,1203.6 619.1,1204.3 620.3,1205.3 621.7,1204.9 623.0,1206.1 624.3,1207.6 625.5,1206.8 626.7,1207.5 628.0,1208.9 629.2,1209.4 630.5,1210.7 631.7,1211.1 633.2,1211.4 634.7,1212.8 636.2,1212.7 637.7,1213.4 638.9,1214.2 640.2,1214.3 641.5,1214.8 642.7,1215.7 644.0,1215.9 645.2,1217.4 646.4,1217.5 647.7,1217.7 648.9,1217.5 650.1,1218.5 651.6,1219.1 653.0,1219.9 654.5,1220.5 655.9,1221.5 657.4,1222.2 658.8,1221.9 660.3,1222.3 661.8,1223.1 663.2,1224.2 664.7,1223.7 666.1,1224.5 667.6,1225.4 669.0,1224.9 670.5,1225.6 671.9,1227.2 673.4,1227.4 674.9,1227.4 676.3,1227.3 677.8,1229.1 679.2,1229.3 680.7,1230.1 682.2,1230.9 683.6,1231.2 685.1,1231.0 686.6,1231.1 688.0,1231.8 689.5,1232.7 691.0,1233.2 692.4,1233.2 693.9,1233.7 695.3,1234.8 696.8,1235.3 698.3,1235.3 699.7,1236.7 701.2,1236.5 702.6,1236.0 704.1,1236.9 705.5,1237.9 707.0,1237.5 708.5,1238.5 709.9,1237.7 711.4,1238.5 712.8,1239.7 714.3,1239.6 715.7,1240.1 717.2,1239.7 718.6,1240.5 720.1,1241.0 721.6,1240.9 723.0,1241.9 724.5,1242.0 725.9,1243.1 727.4,1242.8 728.8,1242.9 730.3,1242.8 731.7,1243.2 733.2,1244.6 734.7,1243.9 736.1,1244.2 737.6,1244.7 739.0,1245.6 740.5,1246.5 741.9,1246.5 743.4,1247.2 744.9,1246.4 746.3,1246.7 747.8,1248.3 749.2,1247.9 750.7,1248.9 752.2,1248.7 753.6,1248.8 755.1,1249.4 756.6,1249.5 758.0,1251.1 759.5,1251.0 761.0,1251.0 762.4,1251.5 763.9,1251.7 765.3,1251.5 766.8,1253.2 768.3,1253.0 769.7,1253.9 771.2,1253.4 772.6,1254.0 774.1,1253.6 775.5,1253.6 777.0,1255.3 778.4,1255.4 779.9,1254.8 781.4,1256.0 782.8,1256.1 784.3,1255.6 785.7,1256.4 787.2,1257.3 788.6,1256.9 790.1,1257.9 791.6,1257.2 793.0,1257.9 794.5,1258.8 795.9,1258.4 797.4,1259.0 798.9,1260.4 800.3,1260.3 801.8,1261.2 803.3,1260.8 804.7,1261.2 806.2,1261.9 807.7,1262.1 809.1,1263.8 810.6,1263.1 812.0,1263.9 813.5,1263.6 815.0,1264.5 816.4,1264.6 817.9,1264.9 819.3,1264.6 820.8,1264.9 822.2,1266.2 823.7,1265.7 825.1,1265.7 826.6,1265.8 828.1,1266.1 829.5,1266.2 831.0,1266.1 832.4,1267.3 833.9,1267.0 835.3,1266.9 836.8,1268.0 838.3,1267.3 839.7,1267.9 841.2,1269.1 842.6,1268.2 844.1,1269.0 845.6,1270.0 847.0,1270.2 848.5,1269.5 850.0,1270.1 851.4,1271.0 852.9,1270.8 854.4,1272.0 855.8,1271.1 857.3,1272.6 858.7,1272.1 860.2,1272.0 861.7,1272.6 863.1,1272.3 864.6,1273.5 866.0,1273.0 867.5,1274.3 868.9,1274.0 870.4,1273.9 871.9,1273.9 873.3,1274.7 874.8,1274.3 876.2,1275.5 877.7,1274.5 879.1,1275.3 880.6,1275.6 882.0,1275.3 883.5,1276.3 884.9,1275.9 886.4,1276.5 887.8,1276.5 889.2,1276.2 890.6,1276.5 892.1,1276.2 893.5,1276.4 894.9,1277.7 896.4,1276.9 897.8,1277.6 899.3,1276.9 900.7,1277.7 902.0,1277.5 903.2,1277.9 904.4,1277.6 905.7,1277.4 906.9,1277.9 908.4,1277.9 909.9,1277.9 911.3,1278.9 912.8,1278.4 914.3,1278.7 915.7,1279.6 917.1,1279.5 918.6,1279.8 920.0,1279.9 921.3,1278.9 922.7,1279.2 924.1,1279.0 925.5,1280.2 926.9,1280.3 928.2,1280.0 929.6,1280.2 930.9,1280.8 932.3,1281.0 933.6,1280.4 935.0,1281.6 936.3,1280.9 937.6,1281.6 938.9,1281.0 940.2,1281.1 941.5,1282.6 942.7,1282.5 944.0,1282.6 945.3,1281.7 946.6,1281.9 947.9,1282.3 949.2,1282.5 950.5,1282.9 951.8,1283.2 953.1,1282.8 954.3,1283.4 955.6,1284.2 956.9,1283.6 958.2,1284.9 959.5,1284.6 960.8,1285.0 962.1,1284.5 963.4,1285.0 964.6,1285.6 965.9,1285.2 967.2,1284.8 968.5,1286.4 969.8,1286.5 971.0,1285.9 972.3,1285.7 973.6,1287.2 974.9,1286.9 976.2,1286.2 977.4,1286.7 978.7,1286.7 980.0,1288.0 981.3,1287.2 982.5,1288.5 983.8,1288.4 985.1,1287.6 986.3,1288.7 987.6,1288.4 988.9,1289.1 990.2,1289.5 991.4,1288.7 992.7,1288.6 994.0,1290.2 995.2,1289.5 996.5,1290.5 997.8,1290.3 999.0,1290.5 1000.3,1290.8 1001.5,1290.6 1002.8,1290.5 1004.0,1290.0 1005.3,1291.2 1006.5,1291.0 1007.8,1291.2 1009.0,1292.1 1010.3,1291.0 1011.5,1292.1 1012.8,1291.1 1014.1,1292.3 1015.3,1292.7 1016.6,1291.9 1017.9,1292.6 1019.2,1293.4 1020.5,1293.0 1021.7,1293.0 1023.0,1292.7 1024.3,1292.6 1025.6,1293.2 1026.9,1293.4 1028.1,1293.2 1029.4,1293.6 1030.6,1293.4 1031.8,1294.5 1033.0,1294.6 1034.2,1294.0 1035.4,1294.2 1036.6,1294.7 1037.8,1294.8 1039.0,1295.7 1040.2,1294.9 1041.4,1295.0 1042.6,1296.0 1043.8,1295.0 1045.0,1295.8 1046.3,1295.6 1047.5,1296.5 1048.8,1296.2 1050.1,1296.7 1051.4,1295.9 1052.7,1296.8 1054.0,1296.9 1055.3,1296.8 1056.6,1297.4 1057.8,1297.7 1059.1,1296.7 1060.4,1297.1 1061.7,1297.3 1063.0,1297.2 1064.3,1297.1 1065.6,1297.6 1066.8,1297.6 1068.1,1298.6 1069.4,1298.3 1070.7,1297.9 1072.0,1298.4 1073.2,1298.8 1074.5,1298.7 1075.8,1298.5 1077.1,1298.5 1078.4,1298.6 1079.6,1300.3 1080.9,1300.0 1082.2,1299.1 1083.5,1300.2 1084.8,1300.8 1086.1,1300.3 1087.3,1299.7 1088.6,1300.4 1089.9,1300.4 1091.2,1300.2 1092.5,1300.9 1093.7,1300.2 1095.0,1301.8 1096.3,1301.4 1097.6,1301.5 1098.9,1302.2 1100.1,1301.8 1101.4,1301.3 1102.7,1301.4 1104.0,1301.4 1105.3,1301.3 1106.5,1302.7 1107.8,1302.9 1109.1,1302.1 1110.4,1302.1 1111.7,1302.9 1113.0,1303.4 1114.2,1303.7 1115.5,1302.6 1116.8,1303.7 1118.1,1303.9 1119.4,1303.8 1120.6,1303.3 1121.9,1303.2 1123.2,1304.3 1124.5,1303.6 1125.8,1303.8 1127.0,1304.2 1128.3,1304.1 1129.6,1304.9 1130.9,1304.1 1132.2,1303.9 1133.4,1304.8 1134.7,1305.0 1136.0,1305.5 1137.3,1305.4 1138.6,1305.8 1139.8,1306.0 1141.1,1305.4 1142.4,1305.5 1143.7,1305.1 1145.0,1305.4 1146.2,1306.0 1147.5,1305.3 1148.8,1306.3 1150.1,1305.6 1151.3,1306.1 1152.6,1307.1 1153.9,1305.8 1155.2,1305.8 1156.5,1306.5 1157.7,1306.2 1159.0,1307.2 1160.3,1306.1 1161.6,1307.6 1162.9,1307.7 1164.1,1307.7 1165.4,1307.2 1166.7,1307.1 1168.0,1307.8 1169.2,1307.6 1170.5,1307.6 1171.8,1307.6 1173.1,1307.8 1174.4,1308.3 1175.6,1308.6 1176.9,1308.9 1178.2,1307.8 1179.5,1308.1 1180.8,1308.4 1182.0,1308.7 1183.3,1308.5 1184.6,1308.3 1185.9,1308.2 1187.1,1308.7 1188.4,1309.0 1189.7,1310.0 1191.0,1310.0 1192.3,1310.0 1193.5,1310.3 1194.8,1310.3 1196.1,1309.9 1197.4,1310.3 1198.7,1309.2 1199.9,1310.3 1201.2,1310.3 1202.5,1309.9 1203.8,1310.4 1205.1,1311.1 1206.3,1310.5 1207.6,1310.9 1208.9,1310.4 1210.2,1310.6 1211.4,1311.5 1212.7,1310.3 1214.0,1310.6 1215.3,1311.5 1216.6,1311.2 1217.8,1310.8 1219.1,1311.8 1220.4,1311.4 1221.7,1311.9 1223.0,1311.7 1224.2,1312.0 1225.5,1312.1 1226.8,1312.0 1228.1,1311.6 1229.3,1311.8 1230.6,1313.1 1231.9,1312.6 1233.2,1312.0 1234.5,1313.3 1235.7,1312.5 1237.0,1312.3 1238.3,1313.1 1239.6,1312.8 1240.9,1313.2 1242.1,1313.4 1243.4,1313.0 1244.7,1313.7 1246.0,1313.0 1247.3,1313.8 1248.5,1314.0 1249.8,1313.3 1251.1,1313.9 1252.4,1313.5 1253.6,1314.2 1254.9,1315.0 1256.2,1314.6 1257.5,1314.9 1258.8,1315.1 1260.0,1314.2 1261.3,1315.7 1262.6,1315.4 1263.9,1314.5 1265.2,1315.7 1266.4,1315.1 1267.7,1314.9 1269.0,1316.3 1270.3,1315.7 1271.6,1316.2 1272.8,1315.2 1274.1,1316.4 1275.4,1315.3 1276.7,1315.7 1277.9,1316.0 1279.2,1315.6 1280.5,1316.6 1281.8,1316.1 1283.1,1316.3 1284.3,1317.1 1285.6,1316.7 1286.9,1317.6 1288.2,1317.3 1289.5,1317.8 1290.7,1317.4 1292.0,1318.1 1293.3,1318.1 1294.6,1317.1 1295.8,1318.1 1297.1,1317.6 1298.4,1318.3 1299.7,1318.3 1301.0,1318.6 1302.2,1317.6 1303.5,1318.1 1304.8,1318.8 1306.1,1319.3 1307.4,1319.0 1308.6,1318.0 1309.9,1319.0 1311.2,1318.3 1312.5,1319.1 1313.7,1319.6 1315.0,1318.6 1316.3,1320.0 1317.6,1319.7 1318.9,1319.2 1320.1,1319.2 1321.4,1319.7 1322.7,1320.4 1324.0,1320.1 1325.3,1319.5 1326.5,1319.4 1327.8,1319.7 1329.1,1320.9 1330.4,1320.0 1331.7,1320.7 1332.9,1320.4 1334.2,1321.1 1335.5,1320.7 1336.8,1320.5 1338.1,1321.7 1339.3,1321.3 1340.6,1321.6 1341.9,1321.9 1343.2,1322.3 1344.5,1320.9 1345.7,1321.5 1347.0,1321.3 1348.3,1322.0 1349.6,1322.7 1350.9,1322.7 1352.2,1321.5 1353.4,1321.9 1354.7,1323.0 1356.0,1322.9 1357.3,1322.5 1358.6,1322.8 1359.8,1322.4 1361.1,1323.6 1362.4,1323.0 1363.7,1323.8 1365.0,1323.5 1366.2,1322.8 1367.5,1323.3 1368.8,1323.2 1370.1,1324.4 1371.4,1324.0 1372.6,1323.2 1373.9,1323.5 1375.2,1323.9 1376.5,1324.2 1377.8,1324.5 1379.1,1324.3 1380.3,1324.3 1381.6,1323.9 1382.9,1324.9 1384.2,1324.6 1385.5,1324.2 1386.7,1325.0 1388.0,1325.9 1389.3,1324.5 1390.6,1324.8 1391.9,1325.7 1393.1,1325.1 1394.4,1325.2 1395.7,1325.7 1396.9,1325.4 1398.2,1326.0 1399.4,1326.0 1400.7,1326.8 1401.9,1326.9 1403.2,1325.4 1404.4,1326.4 1405.7,1326.8 1406.9,1327.0 1408.1,1326.9 1409.4,1326.8 1410.6,1326.9 1411.9,1326.5 1413.1,1326.5 1414.4,1327.4 1415.7,1327.6 1417.0,1327.8 1418.2,1327.4 1419.5,1326.9 1420.8,1327.7 1422.1,1327.7 1423.4,1327.4 1424.7,1327.7 1425.9,1327.3 1427.2,1327.7 1428.5,1327.6 1429.8,1327.1 1431.1,1327.6 1432.3,1327.7 1433.5,1328.8 1434.7,1328.1 1435.9,1327.9 1437.1,1327.8 1438.3,1327.9 1439.5,1328.1 1440.7,1327.8 1441.9,1327.7 1443.1,1329.2 1444.3,1328.6 1445.5,1328.6 1446.7,1328.9 1447.9,1328.5 1449.2,1328.4 1450.5,1328.3 1451.8,1328.8 1453.1,1328.8 1454.4,1329.6 1455.7,1329.4 1457.0,1330.1 1458.3,1329.2 1459.6,1330.2 1460.9,1329.8 1462.2,1329.0 1463.4,1329.3 1464.7,1330.0 1465.9,1330.7 1467.1,1329.8 1468.4,1330.6 1469.6,1330.1 1470.9,1330.9 1472.1,1329.7 1473.5,1330.4 1474.8,1331.2 1476.2,1330.3 1477.5,1330.4 1478.9,1330.1 1480.2,1330.4 1481.6,1330.7 1482.9,1331.5 1484.2,1330.8 1485.6,1331.2 1486.9,1331.0 1488.3,1331.8 1489.6,1332.3 1491.0,1332.1 1492.3,1331.5 1493.7,1332.5 1495.0,1332.9 1496.2,1332.5 1497.4,1331.8 1498.6,1333.0 1499.8,1333.3 1501.0,1332.5 1502.2,1332.3 1503.4,1332.5 1504.6,1333.2 1505.8,1333.8 1507.0,1333.6 1508.2,1334.1 1509.5,1333.1 1510.8,1333.4 1512.1,1334.2 1513.4,1334.2 1514.7,1333.9 1515.9,1334.5 1517.2,1334.1 1518.5,1333.8 1519.8,1334.5 1521.1,1334.0 1522.4,1335.1 1523.6,1334.7 1524.9,1335.1 1526.2,1335.4 1527.4,1335.0 1528.7,1335.4 1530.0,1334.8 1531.2,1336.4 1532.5,1335.9 1533.8,1336.7 1535.0,1335.3 1536.3,1336.4 1537.6,1336.7 1538.8,1336.1 1540.1,1335.9 1541.4,1336.1 1542.6,1336.2 1543.9,1337.3 1545.1,1336.3 1546.4,1337.5 1547.7,1337.0 1548.9,1337.3 1550.2,1337.5 1551.5,1337.5 1552.7,1337.8 1554.0,1337.8 1555.2,1337.4 1556.5,1338.2 1557.7,1337.5 1559.0,1338.3 1560.2,1338.4 1561.4,1338.5 1562.6,1337.8 1563.9,1338.6 1565.1,1339.0 1566.3,1338.2 1567.6,1338.0 1568.8,1338.5 1570.0,1339.2 1571.2,1338.0 1572.5,1337.8 1573.7,1338.6 1574.9,1339.0 1576.1,1339.2 1577.4,1338.6 1578.6,1339.6 1579.8,1338.5 1581.0,1339.4 1582.2,1338.3 1583.4,1338.3 1584.6,1338.5 1585.9,1338.4 1587.1,1339.2 1588.3,1339.3 1589.5,1338.7 1590.7,1340.0 1591.9,1339.1 1593.1,1338.8 1594.4,1338.9 1595.6,1339.8 1596.8,1340.2 1598.0,1339.0 1599.3,1338.8 1600.5,1340.1 1601.7,1339.2 1602.9,1340.5 1604.2,1339.7 1605.4,1340.0 1606.6,1339.6 1607.8,1340.3 1609.1,1339.8 1610.3,1339.7 1611.6,1340.6 1612.9,1339.4 1614.1,1340.5 1615.4,1339.5 1616.7,1340.5 1617.9,1340.1 1619.2,1340.9 1620.5,1339.7 1621.7,1340.5 1623.0,1340.4 1624.2,1341.2 1625.4,1341.4 1626.6,1340.9 1627.9,1340.4 1629.1,1340.5 1630.3,1340.6 1631.5,1340.9 1632.7,1340.7 1634.1,1340.8 1635.4,1341.8 1636.8,1341.7 1638.2,1341.3 1639.5,1342.5 1640.8,1341.4 1642.1,1342.1 1643.4,1341.6 1644.7,1342.9 1646.0,1343.1 1647.2,1342.4 1648.5,1343.4 1649.7,1343.7 1650.9,1343.1 1652.1,1343.5 1653.3,1344.1 1654.5,1345.0 1655.9,1344.3 1657.2,1345.6 1658.6,1346.0 1660.4,1346.5 1662.2,1347.4 1663.9,1348.5 1665.6,1348.0 1667.2,1349.7 1668.9,1349.4 1670.4,1350.6 1671.8,1351.2 1673.3,1350.5 1674.7,1352.0 1676.1,1352.3 1677.6,1351.4 1679.0,1350.8 1680.4,1350.7 1681.8,1351.7 1683.2,1349.7 1684.7,1350.7 1686.1,1348.9 1687.9,1349.4 1689.6,1347.9 1690.9,1347.7 1692.1,1348.2 1693.4,1346.9 1694.8,1347.0 1696.1,1347.6 1697.5,1347.0 1699.1,1346.9 1700.7,1346.8 1702.3,1345.0 1703.8,1345.1 1705.2,1345.8 1706.7,1345.5 1708.2,1344.3 1709.5,1344.9 1710.8,1344.4 1712.2,1344.7 1713.5,1344.1 1714.8,1343.9 1716.1,1345.4 1717.4,1344.2 1718.8,1345.1 1720.1,1343.9 1721.5,1344.4 1722.8,1343.8 1724.2,1344.3 1725.5,1343.8 1726.8,1344.6 1728.2,1343.7 1729.5,1344.6 1730.9,1344.2 1732.2,1343.6 1733.6,1343.9 1734.9,1344.1 1736.2,1344.7 1737.5,1343.7 1738.8,1343.4 1740.2,1344.6 1741.5,1344.4 1742.8,1344.1 1744.3,1343.2 1745.7,1342.9 1747.2,1342.9 1748.7,1342.4 1750.3,1342.1 1751.9,1342.6 1753.4,1342.2 1754.8,1342.1 1756.1,1341.5 1757.5,1340.7 1758.8,1341.4 1760.1,1341.1 1761.4,1340.6 1762.6,1340.2 1763.9,1340.0 1765.1,1340.1 1766.7,1339.2 1768.4,1338.3 1769.9,1337.2 1771.5,1336.4 1773.1,1336.1 1774.7,1336.5 1776.3,1335.2 1777.8,1335.0 1779.3,1334.9 1780.8,1334.3 1782.5,1335.6 1784.1,1333.9 1785.4,1334.8 1786.7,1335.3 1788.0,1334.2 1789.5,1334.7 1791.1,1334.3 1792.6,1334.1 1793.9,1334.0 1795.2,1333.8 1796.5,1335.0 1797.8,1334.9 1799.2,1335.1 1800.6,1333.7 1802.0,1334.7 1803.4,1334.2 1804.9,1334.7 1806.4,1334.6 1807.8,1334.3 1809.3,1335.4 1810.6,1333.9 1811.8,1335.1 1813.1,1335.3 1814.3,1334.8 1815.6,1335.0 1816.9,1335.8 1818.3,1334.6 1819.6,1335.3 1820.9,1335.6 1822.3,1335.1 1823.6,1335.7 1825.0,1335.3 1826.4,1335.7 1827.8,1335.9 1829.1,1336.1 1830.5,1335.7 1831.8,1336.3 1833.2,1336.3 1834.5,1335.9 1835.9,1336.7 1837.2,1336.3 1838.6,1337.5 1839.9,1336.9 1841.2,1337.5 1842.6,1337.3 1843.9,1337.4 1845.2,1337.2 1846.5,1337.3 1847.9,1338.7 1849.2,1338.3 1850.5,1338.5 1851.9,1338.7 1853.2,1339.3 1854.5,1338.6 1855.9,1338.7 1857.2,1340.0 1858.5,1339.7 1859.8,1340.2 1861.2,1340.8 1862.5,1341.1 1863.8,1341.4 1865.2,1340.4 1866.5,1341.2 1867.8,1342.2 1869.1,1342.5 1870.5,1341.8 1871.8,1342.2 1873.1,1342.7 1874.5,1342.8 1875.8,1343.5 1877.1,1344.6 1878.5,1344.5 1879.8,1344.7 1881.1,1344.5 1882.4,1345.4 1883.8,1346.6 1885.1,1346.5 1886.4,1346.4 1887.8,1346.8 1889.1,1347.6 1890.4,1347.8 1891.8,1347.1 1893.1,1348.2 1894.4,1347.9 1895.8,1348.4 1897.1,1348.2 1898.4,1348.7 1899.8,1348.8 1901.1,1349.1 1902.4,1348.8 1903.8,1349.3 1905.1,1350.1 1906.5,1349.5 1907.8,1349.9 1909.1,1351.0 1910.5,1350.5 1911.8,1350.8 1913.1,1350.9 1914.5,1352.0 1915.8,1351.0 1917.1,1352.1 1918.5,1352.7 1919.8,1351.9 1921.1,1352.4 1922.5,1353.3 1923.8,1353.2 1925.1,1353.0 1926.4,1352.7 1927.8,1353.6 1929.1,1353.6 1930.4,1354.4 1931.8,1353.9 1933.1,1354.3 1934.4,1354.9 1935.8,1355.4 1937.1,1354.9 1938.4,1355.1 1939.7,1355.6 1941.1,1356.4 1942.4,1355.4 1943.7,1356.9 1945.1,1356.6 1946.4,1356.3 1947.7,1357.0 1949.1,1356.6 1950.4,1356.4 1951.7,1357.7 1953.0,1357.3 1954.4,1357.7 1955.7,1357.9 1957.0,1358.7 1958.4,1358.7 1959.7,1357.7 1961.0,1358.8 1962.4,1358.7 1963.7,1358.9 1965.0,1359.7 1966.3,1359.1 1967.7,1359.4 1969.0,1360.2 1970.3,1359.6 1971.7,1359.9 1973.0,1360.0 1974.3,1360.7 1975.7,1360.6 1977.0,1360.8 1978.3,1360.4 1979.6,1359.9 1981.0,1361.1 1982.3,1361.0 1983.6,1361.5 1985.0,1361.6 1986.3,1360.6 1987.6,1360.9 1989.0,1360.8 1990.3,1362.0 1991.6,1360.9 1992.9,1361.0 1994.3,1362.1 1995.6,1361.9 1996.9,1361.1 1998.2,1362.2 1999.5,1362.3 2000.8,1361.9 2002.1,1361.3 2003.4,1362.3 2004.6,1361.9 2005.9,1362.1 2007.2,1362.8 2008.4,1362.5 2009.8,1362.6 2011.1,1361.4 2012.4,1361.7 2013.7,1362.0 2015.0,1361.2 2016.5,1362.7 2017.9,1361.5 2019.3,1361.5 2020.8,1361.5 2022.2,1361.4 2023.4,1362.3 2024.7,1361.8 2025.9,1361.7 2027.2,1361.5 2028.4,1360.9 2029.7,1361.2 2030.9,1362.1 2032.2,1361.9 2033.4,1362.0 2034.6,1361.0 2035.8,1360.8 2037.1,1360.5 2038.3,1361.3 2039.5,1361.0 2040.8,1361.0 2042.0,1361.0 2043.3,1361.1 2044.6,1360.7 2045.9,1361.3 2047.2,1360.3 2048.5,1361.4 2049.8,1360.8 2051.0,1359.9 2052.3,1360.3 2053.5,1360.6 2054.8,1360.3 2056.0,1360.4" fill="none" stroke="#598D14" stroke-width="7.9" stroke-linejoin="round" stroke-linecap="butt" />
<path d="M592,1183 L592.5,1178 L596,1178 L598,1184 L601,1184 L603,1178.5 L607,1179 L608.5,1186 L608.5,1200 L606,1207.5 L601,1208.5 L597,1203 L592,1198 Z" fill="#598D14"/>
<g opacity="0.82">
<polyline points="281.8,1482.3 281.8,1481.1 281.9,1480.0 281.9,1479.8 282.0,1478.5 282.0,1477.3 282.0,1477.2 282.1,1475.9 282.2,1474.5 282.2,1472.5 282.3,1470.8 282.3,1469.6 282.4,1468.9 282.5,1467.2 282.5,1466.6 282.5,1465.3 282.6,1464.0 282.6,1463.3 282.7,1462.6 282.7,1460.9 282.8,1459.6 282.9,1457.7 282.9,1456.6 283.0,1455.6 283.0,1455.4 283.1,1454.1 283.1,1453.0 283.1,1451.9 283.2,1451.8 283.2,1450.5 283.2,1449.2 283.3,1448.9 283.3,1448.2 283.4,1447.0 283.4,1445.9 283.4,1445.6 283.5,1443.8 283.5,1442.7 283.5,1441.6 283.6,1440.8 283.6,1439.7 283.7,1438.1 283.7,1437.6 283.8,1436.5 283.8,1435.4 283.8,1435.2 283.9,1433.2 283.9,1431.6 284.0,1431.2 284.0,1429.2 284.1,1428.8 284.1,1428.0 284.2,1426.4 284.2,1425.0 284.2,1423.1 284.3,1422.7 284.3,1420.8 284.4,1420.5 284.4,1419.4 284.4,1418.4 284.5,1417.9 284.5,1416.3 284.5,1415.1 284.6,1414.4 284.6,1413.4 284.6,1412.4 284.7,1411.1 284.7,1411.1 284.7,1410.0 284.8,1408.9 284.8,1408.5 284.8,1407.3 284.9,1405.5 284.9,1403.7 285.0,1402.4 285.0,1402.4 285.0,1401.2 285.0,1400.0 285.1,1399.4 285.1,1398.2 285.2,1396.3 285.2,1395.6 285.2,1393.9 285.3,1393.3 285.3,1392.0 285.4,1390.6 285.4,1389.1 285.5,1388.2 285.5,1386.6 285.5,1385.3 285.6,1384.2 285.6,1384.0 285.7,1382.2 285.7,1381.6 285.7,1380.3 285.8,1379.0 285.8,1379.3 285.8,1377.3 285.9,1376.6 285.9,1375.0 286.0,1374.0 286.0,1372.0 286.0,1371.6 286.1,1370.6 286.1,1369.5 286.1,1368.4 286.2,1366.8 286.2,1366.2 286.3,1365.2 286.3,1363.6 286.3,1363.3 286.4,1362.1 286.4,1360.8 286.4,1360.4 286.5,1358.6 286.5,1358.0 286.5,1357.1 286.6,1355.7 286.6,1354.6 286.6,1353.5 286.7,1352.5 286.7,1351.9 286.8,1351.3 286.8,1349.9 286.8,1348.5 286.8,1348.2 286.9,1347.1 286.9,1346.1 287.0,1344.1 287.0,1343.7 287.1,1341.9 287.1,1341.4 287.1,1340.1 287.2,1338.7 287.2,1339.0 287.2,1338.0 287.2,1336.9 287.3,1335.7 287.3,1333.9 287.4,1332.9 287.4,1332.4 287.5,1331.1 287.5,1330.0 287.5,1329.0 287.6,1328.1 287.6,1326.5 287.7,1325.3 287.7,1324.1 287.8,1323.0 287.8,1322.8 287.8,1321.5 287.9,1319.9 287.9,1318.2 288.0,1316.9 288.0,1316.1 288.1,1315.1 288.1,1313.5 288.2,1312.1 288.2,1310.2 288.3,1309.6 288.3,1308.8 288.4,1307.4 288.4,1306.3 288.4,1305.1 288.5,1304.9 288.5,1303.1 288.6,1301.5 288.6,1301.6 288.7,1299.9 288.7,1298.7 288.7,1297.6 288.8,1296.5 288.8,1296.3 288.9,1295.2 288.9,1293.9 289.0,1292.4 289.0,1291.3 289.1,1290.0 289.2,1288.4 289.2,1286.9 289.3,1286.3 289.3,1285.0 289.4,1283.8 289.4,1282.8 289.5,1281.7 289.5,1281.5 289.6,1279.5 289.6,1278.9 289.7,1277.6 289.7,1276.3 289.8,1276.4 289.8,1274.8 289.9,1273.7 289.9,1272.6 290.0,1272.3 290.0,1271.1 290.0,1270.0 290.1,1268.7 290.2,1267.9 290.3,1266.3 290.3,1265.5 290.4,1264.9 290.5,1263.3 290.5,1262.1 290.6,1260.3 290.7,1259.7 290.8,1258.4 290.9,1257.0 290.9,1256.1 291.0,1254.7 291.1,1252.7 291.2,1250.9 291.3,1250.5 291.4,1249.5 291.4,1248.5 291.5,1247.4 291.6,1246.5 291.7,1245.6 291.7,1244.2 291.8,1242.9 291.8,1241.6 291.9,1241.1 292.0,1240.1 292.0,1239.1 292.1,1237.9 292.2,1237.7 292.3,1235.8 292.4,1234.8 292.6,1233.2 292.7,1231.7 292.8,1230.2 292.9,1229.1 293.0,1228.6 293.1,1226.9 293.2,1225.1 293.3,1223.5 293.4,1222.5 293.5,1221.8 293.7,1220.1 293.8,1219.2 293.9,1218.1 293.9,1216.9 294.0,1215.7 294.1,1215.3 294.2,1214.1 294.2,1212.9 294.4,1212.8 294.4,1211.7 294.5,1210.5 294.6,1209.3 294.7,1209.1 294.8,1207.9 294.9,1206.8 295.0,1205.2 295.1,1204.9 295.3,1203.1 295.4,1202.3 295.5,1201.2 295.5,1200.1 295.7,1198.9 295.8,1198.3 295.9,1197.3 295.9,1196.3 296.1,1195.8 296.1,1194.5 296.2,1193.2 296.4,1192.9 296.4,1191.7 296.5,1190.5 296.6,1189.8 296.7,1188.7 296.8,1187.6 296.9,1186.7 297.0,1186.7 297.1,1185.7 297.2,1184.7 297.3,1184.0 297.4,1182.9 297.4,1181.9 297.6,1180.8 297.7,1179.2 297.9,1178.6 298.0,1177.7 298.2,1175.9 298.3,1174.3 298.5,1173.9 298.6,1172.5 298.8,1170.9 298.8,1169.9 298.9,1168.8 299.1,1168.4 299.2,1166.9 299.4,1166.5 299.4,1165.4 299.5,1164.3 299.7,1163.4 299.9,1161.9 300.0,1160.1 300.2,1158.9 300.4,1157.8 300.6,1156.7 300.7,1155.7 300.8,1154.7 300.9,1153.1 301.1,1152.7 301.2,1151.2 301.3,1149.8 301.5,1149.7 301.7,1148.0 301.8,1146.5 302.0,1144.9 302.2,1144.0 302.4,1142.9 302.5,1141.3 302.7,1140.0 302.8,1138.7 302.9,1137.5 303.0,1136.6 303.2,1135.0 303.4,1135.0 303.6,1133.5 303.7,1132.3 303.8,1131.0 304.0,1130.4 304.2,1129.1 304.3,1128.0 304.4,1126.9 304.6,1126.2 304.8,1125.4 305.0,1123.9 305.2,1122.0 305.5,1121.5 305.6,1120.5 305.7,1119.5 306.0,1118.6 306.2,1117.1 306.5,1116.7 306.7,1114.8 307.0,1113.8 307.2,1112.3 307.5,1110.5 307.8,1110.2 308.1,1108.5 308.3,1107.2 308.6,1105.3 308.9,1103.8 309.2,1103.2 309.5,1102.3 309.7,1101.0 310.0,1099.0 310.3,1097.4 310.6,1096.8 310.9,1096.1 311.0,1094.9 311.1,1093.7 311.4,1093.3 311.6,1092.3 311.7,1091.2 312.0,1090.2 312.3,1088.5 312.6,1087.6 312.9,1086.5 313.1,1086.2 313.5,1085.0 313.6,1083.7 313.8,1082.5 314.1,1081.4 314.4,1081.2 314.5,1080.0 314.7,1078.8 315.0,1077.7 315.3,1076.6 315.6,1074.9 316.0,1073.9 316.3,1072.8 316.7,1071.6 317.0,1071.3 317.2,1070.1 317.4,1068.9 317.8,1067.6 318.1,1067.5 318.5,1065.5 318.9,1064.9 319.3,1063.3 319.7,1062.3 320.1,1060.3 320.5,1058.8 320.9,1058.5 321.3,1056.8 321.7,1055.7 322.1,1054.6 322.5,1053.5 322.7,1052.4 322.9,1051.4 323.2,1050.2 323.6,1049.8 324.0,1047.8 324.3,1046.1 324.7,1045.2 325.0,1043.2 325.4,1042.7 325.6,1041.4 325.7,1040.1 326.0,1040.2 326.3,1038.5 326.6,1037.0 326.9,1036.7 327.0,1035.6 327.1,1034.4 327.4,1033.2 327.7,1031.7 328.0,1031.2 328.2,1030.4 328.5,1029.0 328.8,1027.4 329.0,1026.8 329.2,1025.6 329.3,1024.4 329.6,1023.5 329.9,1022.9 330.1,1022.2 330.4,1020.4 330.7,1019.3 331.0,1018.0 331.2,1017.0 331.4,1016.0 331.7,1015.4 332.0,1013.6 332.2,1012.6 332.4,1011.6 332.7,1010.2 333.0,1009.4 333.2,1008.4 333.4,1007.3 333.7,1005.6 334.0,1005.2 334.4,1003.3 334.7,1001.8 335.1,1000.6 335.4,999.5 335.6,998.2 335.7,996.9 336.1,995.8 336.4,993.9 336.7,993.0 337.1,991.7 337.4,990.9 337.7,989.4 338.0,988.0 338.2,986.5 338.5,985.6 338.8,983.9 339.1,983.6 339.3,982.3 339.6,981.1 339.7,980.0 339.9,978.8 340.1,978.4 340.4,977.3 340.7,975.7 341.0,975.1 341.2,973.9 341.5,972.5 341.8,971.4 342.1,969.9 342.4,969.1 342.5,967.8 342.7,966.5 343.1,966.1 343.4,964.7 343.8,963.2 344.1,961.2 344.5,959.6 344.8,959.2 345.2,958.2 345.4,957.1 345.5,956.0 345.9,954.6 346.3,953.4 346.7,952.0 347.0,951.7 347.4,950.9 347.8,949.4 348.2,947.5 348.5,946.8 348.7,945.7 348.9,944.6 349.3,944.6 349.5,943.6 349.7,942.6 350.1,940.8 350.5,940.6 350.7,939.6 350.9,938.6 351.3,937.6 351.7,936.0 352.1,935.4 352.5,934.3 353.0,933.5 353.2,932.3 353.4,931.0 353.8,931.0 354.0,929.9 354.3,928.7 354.7,927.6 355.2,927.0 355.6,925.3 356.1,924.1 356.5,923.2 356.9,921.4 357.4,921.1 357.6,920.0 357.8,918.9 358.3,918.7 358.7,917.4 359.1,915.7 359.3,914.6 359.6,913.6 360.0,913.5 360.2,912.3 360.4,911.0 360.8,910.5 361.2,909.0 361.6,907.1 362.0,906.7 362.4,905.5 362.8,903.9 363.2,902.2 363.6,901.0 363.9,899.7 364.3,897.8 364.7,897.4 365.1,896.3 365.4,894.6 365.8,893.5 366.0,892.3 366.2,891.1 366.6,890.9 366.7,889.5 366.9,888.1 367.3,887.5 367.6,885.6 368.0,884.8 368.3,884.0 368.7,882.8 369.0,881.2 369.4,879.8 369.7,878.4 370.2,877.3 370.6,875.7 371.0,874.1 371.4,873.6 371.8,871.8 372.2,870.3 372.6,868.5 373.0,868.0 373.3,866.9 373.5,865.7 373.9,864.4 374.3,863.5 374.7,862.3 375.1,861.3 375.5,859.5 376.0,858.4 376.4,856.9 376.8,855.1 377.2,853.7 377.4,852.4 377.6,851.1 378.0,849.9 378.5,848.2 378.9,848.1 379.3,846.4 379.7,844.8 380.1,842.8 380.6,841.6 381.0,839.9 381.4,839.2 381.8,838.4 382.0,837.2 382.2,835.9 382.7,834.1 383.1,832.9 383.5,831.9 383.9,831.4 384.3,829.8 384.8,827.9 385.2,826.0 385.6,824.7 386.0,823.5 386.4,823.2 386.8,821.5 387.3,821.1 387.7,819.8 388.1,818.4 388.7,816.4 389.2,815.5 389.5,814.2 389.8,813.0 390.3,811.6 390.9,811.0 391.4,809.6 392.0,807.9 392.6,806.8 393.1,805.2 394.0,804.9 394.8,802.9 395.6,801.8 396.5,800.3 396.9,799.1 397.3,798.0 398.2,797.0 399.1,795.2 399.9,794.6 400.8,793.6 401.6,792.5 402.4,791.1 403.2,789.7 404.8,788.3 406.4,787.6 408.3,787.3 409.4,786.8 410.5,786.3 411.7,785.7 412.9,785.1 414.1,786.2 415.4,786.0 416.6,785.3 417.8,784.6 419.0,785.2 420.2,785.9 421.4,785.5 422.6,784.8 423.8,785.4 425.0,786.0 426.2,786.7 427.4,786.3 428.6,786.7 429.8,787.1 431.0,786.7 432.2,787.1 433.4,788.1 434.6,789.0 435.8,788.6 437.0,788.6 438.2,789.8 439.4,789.6 440.6,790.2 441.8,791.1 443.0,791.9 444.2,792.6 445.4,793.2 446.6,793.8 447.8,794.2 449.0,794.6 450.2,794.8 451.4,795.1 452.5,796.3 453.7,797.5 454.9,797.6 456.1,797.8 457.3,798.9 458.5,800.0 459.7,800.7 460.9,802.0 462.1,803.0 463.3,803.1 464.5,804.8 465.7,805.8 466.9,806.7 468.1,807.5 469.3,808.1 469.9,809.3 470.5,810.5 471.7,811.4 472.9,812.3 474.1,812.6 475.3,814.1 476.1,815.3 476.9,816.5 477.7,817.7 478.9,817.7 480.1,819.2 481.3,821.1 482.5,822.4 483.7,823.4 484.9,824.9 486.1,825.1 487.3,826.6 487.9,828.0 488.5,829.5 489.6,830.6 490.8,830.9 492.0,832.3 493.3,834.1 493.9,835.4 494.5,836.7 495.8,837.1 496.5,838.3 497.2,839.4 497.9,840.4 498.6,841.4 500.0,842.6 501.4,844.6 502.7,845.1 503.9,846.9 505.0,846.1 505.7,849.9 506.5,847.0 507.4,852.4 507.9,847.9 508.4,854.1 510.0,849.0 511.2,859.7 511.8,853.5 512.5,860.9 513.9,854.4 514.7,859.9 515.4,856.0 517.0,863.9 517.8,855.9 518.6,868.0 520.2,858.8 521.7,869.8 523.2,861.9 523.9,869.5 524.6,864.5 526.1,873.7 526.8,868.2 527.6,877.2 529.0,870.8 530.5,877.0 531.9,874.5 533.4,880.5 534.9,875.0 536.3,885.0 537.0,879.4 537.8,886.0 539.2,879.9 540.6,889.0 542.1,883.0 542.8,891.0 543.5,887.2 545.0,890.6 545.7,887.2 546.5,894.0 547.9,888.5 549.4,896.1 550.8,889.8 551.6,898.0 552.3,894.9 553.8,900.6 555.2,895.9 556.7,902.3 557.4,896.3 558.2,904.3 559.6,898.3 561.1,908.0 562.6,900.5 564.0,909.2 565.5,901.7 566.9,911.8 568.4,905.6 569.9,911.0 571.3,908.6 572.8,915.0 574.3,910.7 575.7,918.4 577.2,913.0 578.6,919.6 580.1,913.4 581.6,923.5 583.1,917.1 583.8,922.6 584.6,919.0 586.0,925.4 587.5,918.6 589.0,929.1 590.3,922.7 591.7,929.3 592.9,926.8 594.1,931.2 595.2,925.9 596.2,934.0 597.4,932.0 598.5,933.1 599.8,934.2 601.1,935.2 602.7,936.0 604.3,936.7 605.5,936.2 606.8,937.8 608.0,938.7 609.2,938.6 610.4,939.9 611.7,939.4 612.5,940.4 613.4,941.5 615.1,941.6 616.5,943.0 617.9,943.2 619.1,944.2 620.3,945.2 621.7,946.2 623.0,946.8 624.3,948.2 625.5,949.9 626.7,950.1 628.0,951.3 629.2,951.8 630.5,952.7 631.7,953.7 633.2,954.2 634.7,954.3 636.2,955.1 637.7,956.2 638.9,956.3 640.2,957.3 641.5,959.1 642.7,959.9 644.0,959.6 645.2,961.0 646.4,961.7 647.7,962.6 648.9,963.1 650.1,963.4 651.6,963.5 653.0,965.4 654.5,965.4 655.9,966.7 657.4,967.0 658.8,968.1 660.3,969.5 661.8,969.0 663.2,970.4 664.7,971.3 666.1,971.9 667.6,973.3 669.0,973.2 670.5,974.7 671.9,975.1 673.4,976.2 674.9,975.5 676.3,976.5 677.8,977.3 679.2,979.0 680.7,978.2 682.2,979.3 683.6,980.7 685.1,981.9 686.6,981.2 688.0,982.3 689.5,983.4 691.0,984.1 692.4,984.8 693.9,985.5 695.3,985.3 696.8,986.0 698.3,986.2 699.7,987.9 701.2,987.8 702.6,988.5 704.1,990.2 705.5,990.3 707.0,990.8 708.5,991.5 709.9,992.0 711.4,992.8 712.8,992.7 714.3,992.9 715.7,993.5 717.2,994.0 718.6,995.1 720.1,995.3 721.6,995.8 723.0,997.0 724.5,998.3 725.9,998.4 727.4,998.2 728.8,999.5 730.3,999.1 731.7,999.5 733.2,1000.3 734.7,1001.0 736.1,1002.0 737.6,1002.1 739.0,1003.0 740.5,1002.5 741.9,1004.4 743.4,1003.9 744.9,1005.2 746.3,1004.5 747.8,1006.3 749.2,1005.8 750.7,1007.4 752.2,1007.8 753.6,1008.1 755.1,1008.0 756.6,1008.1 758.0,1008.9 759.5,1010.6 761.0,1009.9 762.4,1011.2 763.9,1011.5 765.3,1012.1 766.8,1011.9 768.3,1012.2 769.7,1012.6 771.2,1014.5 772.6,1014.0 774.1,1014.8 775.5,1015.1 777.0,1015.0 778.4,1015.2 779.9,1015.5 781.4,1017.3 782.8,1016.5 784.3,1018.3 785.7,1017.7 787.2,1018.7 788.6,1018.2 790.1,1019.7 791.6,1019.2 793.0,1019.8 794.5,1020.5 795.9,1020.3 797.4,1020.9 798.9,1022.2 800.3,1021.8 801.8,1022.4 803.3,1023.4 804.7,1023.0 806.2,1023.3 807.7,1023.8 809.1,1024.5 810.6,1024.9 812.0,1025.7 813.5,1025.9 815.0,1026.9 816.4,1026.0 817.9,1027.4 819.3,1028.1 820.8,1027.6 822.2,1027.6 823.7,1028.7 825.1,1028.6 826.6,1029.6 828.1,1030.4 829.5,1029.8 831.0,1030.3 832.4,1031.2 833.9,1031.2 835.3,1031.7 836.8,1032.4 838.3,1032.3 839.7,1032.6 841.2,1033.5 842.6,1034.1 844.1,1035.3 845.6,1035.1 847.0,1034.7 848.5,1035.4 850.0,1036.6 851.4,1036.7 852.9,1037.6 854.4,1038.2 855.8,1038.4 857.3,1037.6 858.7,1039.3 860.2,1039.0 861.7,1038.9 863.1,1039.1 864.6,1040.6 866.0,1039.9 867.5,1040.0 868.9,1040.6 870.4,1042.0 871.9,1041.6 873.3,1042.4 874.8,1041.6 876.2,1042.5 877.7,1042.6 879.1,1042.7 880.6,1043.8 882.0,1043.6 883.5,1043.5 885.0,1045.1 886.4,1044.6 887.9,1044.4 889.4,1044.4 890.8,1045.6 892.3,1045.7 893.7,1045.1 895.2,1046.1 896.7,1046.7 898.1,1046.7 899.6,1046.4 901.1,1047.1 902.5,1047.5 904.0,1047.8 905.4,1047.3 906.9,1048.6 908.5,1049.1 910.1,1049.1 911.7,1049.6 913.0,1049.1 914.4,1050.2 915.8,1049.3 917.1,1049.7 918.5,1050.5 919.8,1051.3 921.2,1050.3 922.4,1050.7 923.7,1050.7 925.0,1051.6 926.2,1051.4 927.5,1051.7 928.7,1052.8 930.0,1052.8 931.2,1053.7 932.5,1053.0 933.7,1053.7 934.9,1052.9 936.2,1054.7 937.4,1053.8 938.6,1054.4 939.9,1054.7 941.1,1055.7 942.3,1055.2 943.6,1056.2 944.8,1055.9 946.0,1055.5 947.2,1056.7 948.4,1056.0 949.6,1057.5 950.8,1056.9 952.1,1056.7 953.3,1058.1 954.5,1057.4 955.7,1057.8 956.9,1057.9 958.1,1058.7 959.3,1057.9 960.5,1058.7 961.8,1058.6 963.0,1059.9 964.2,1058.8 965.4,1060.0 966.6,1059.7 967.9,1060.3 969.1,1060.7 970.3,1061.2 971.5,1060.5 972.8,1060.9 974.0,1061.0 975.2,1062.6 976.4,1061.5 977.6,1061.7 978.9,1062.6 980.1,1062.9 981.4,1063.7 982.6,1062.6 983.9,1063.1 985.2,1063.3 986.4,1064.2 987.7,1064.2 988.9,1064.4 990.2,1065.4 991.5,1065.3 992.7,1065.8 994.0,1066.2 995.2,1065.4 996.5,1066.7 997.8,1066.1 999.1,1065.8 1000.3,1067.4 1001.6,1066.3 1002.9,1066.4 1004.2,1067.1 1005.5,1067.3 1006.7,1068.7 1008.0,1068.8 1009.3,1068.3 1010.6,1068.7 1011.8,1069.4 1013.1,1069.6 1014.4,1069.6 1015.7,1069.6 1017.0,1069.2 1018.2,1069.6 1019.5,1070.5 1020.8,1070.7 1022.1,1071.2 1023.4,1071.6 1024.6,1072.0 1025.9,1071.0 1027.2,1071.0 1028.5,1072.6 1029.7,1072.3 1031.0,1071.9 1032.3,1072.9 1033.6,1072.5 1034.9,1072.7 1036.1,1073.1 1037.4,1073.6 1038.7,1074.0 1040.0,1073.3 1041.3,1074.6 1042.5,1074.6 1043.8,1074.6 1045.1,1075.2 1046.4,1075.6 1047.6,1074.6 1048.9,1075.5 1050.2,1076.1 1051.5,1076.3 1052.8,1076.5 1054.0,1075.9 1055.3,1077.4 1056.6,1077.4 1057.9,1076.7 1059.2,1077.2 1060.4,1078.3 1061.7,1077.3 1063.0,1077.9 1064.3,1079.0 1065.6,1079.1 1066.8,1078.2 1068.1,1079.2 1069.4,1078.9 1070.7,1079.6 1072.0,1079.9 1073.2,1079.1 1074.5,1079.5 1075.8,1079.7 1077.1,1080.0 1078.4,1079.8 1079.6,1080.2 1080.9,1080.9 1082.2,1081.1 1083.5,1080.8 1084.8,1081.8 1086.1,1082.6 1087.3,1082.2 1088.6,1082.1 1089.9,1082.8 1091.2,1082.6 1092.5,1082.4 1093.7,1083.1 1095.0,1082.6 1096.3,1083.8 1097.6,1083.2 1098.9,1083.7 1100.1,1084.9 1101.4,1084.8 1102.7,1085.1 1104.0,1085.0 1105.3,1085.2 1106.5,1085.5 1107.8,1086.1 1109.1,1085.1 1110.4,1086.2 1111.7,1085.7 1113.0,1085.8 1114.2,1086.9 1115.5,1086.7 1116.8,1087.3 1118.1,1087.6 1119.4,1087.3 1120.6,1086.9 1121.9,1086.8 1123.2,1087.8 1124.5,1088.3 1125.8,1087.8 1127.0,1087.6 1128.3,1087.7 1129.6,1088.2 1130.9,1089.2 1132.2,1088.3 1133.4,1088.8 1134.7,1089.0 1136.0,1089.9 1137.3,1090.5 1138.6,1089.2 1139.8,1089.5 1141.1,1091.0 1142.4,1091.2 1143.7,1090.1 1145.0,1090.6 1146.2,1091.0 1147.5,1090.9 1148.8,1091.2 1150.1,1091.5 1151.3,1091.3 1152.6,1091.1 1153.9,1091.3 1155.2,1091.6 1156.5,1091.7 1157.7,1092.7 1159.0,1093.0 1160.3,1092.4 1161.6,1093.4 1162.9,1093.5 1164.1,1093.0 1165.4,1093.4 1166.7,1093.1 1168.0,1094.5 1169.2,1094.1 1170.5,1093.4 1171.8,1093.7 1173.1,1094.8 1174.4,1094.4 1175.6,1095.1 1176.9,1094.5 1178.2,1095.6 1179.5,1095.8 1180.8,1094.8 1182.0,1095.8 1183.3,1095.3 1184.6,1096.3 1185.9,1096.7 1187.1,1096.8 1188.4,1096.1 1189.7,1096.1 1191.0,1097.1 1192.3,1097.2 1193.5,1096.7 1194.8,1096.9 1196.1,1097.7 1197.4,1097.2 1198.7,1098.2 1199.9,1097.8 1201.2,1098.0 1202.5,1098.5 1203.8,1098.9 1205.1,1099.4 1206.3,1098.5 1207.6,1099.8 1208.9,1099.2 1210.2,1099.5 1211.4,1100.3 1212.7,1100.5 1214.0,1100.6 1215.3,1101.3 1216.6,1100.4 1217.8,1100.8 1219.1,1101.6 1220.4,1101.2 1221.7,1101.2 1223.0,1101.5 1224.2,1102.6 1225.5,1102.9 1226.8,1103.0 1228.1,1103.6 1229.3,1103.5 1230.6,1103.0 1231.9,1103.2 1233.2,1104.1 1234.5,1103.2 1235.7,1104.3 1237.0,1103.7 1238.3,1103.9 1239.6,1104.8 1240.9,1104.5 1242.1,1106.0 1243.4,1106.1 1244.7,1105.6 1246.0,1105.4 1247.3,1105.5 1248.5,1106.3 1249.8,1106.6 1251.1,1106.5 1252.4,1107.3 1253.6,1107.2 1254.9,1107.8 1256.2,1106.9 1257.5,1107.1 1258.8,1107.8 1260.0,1108.2 1261.3,1108.0 1262.6,1108.9 1263.9,1108.3 1265.2,1108.7 1266.4,1109.1 1267.7,1109.7 1269.0,1110.0 1270.3,1109.5 1271.6,1109.8 1272.8,1110.8 1274.1,1111.0 1275.4,1110.7 1276.7,1110.1 1277.9,1110.8 1279.2,1111.3 1280.5,1110.9 1281.8,1110.7 1283.1,1112.4 1284.3,1112.5 1285.6,1111.4 1286.9,1112.1 1288.2,1112.5 1289.5,1112.2 1290.7,1112.0 1292.0,1113.3 1293.3,1113.5 1294.6,1113.2 1295.8,1112.8 1297.1,1113.4 1298.4,1113.1 1299.7,1114.7 1301.0,1113.4 1302.2,1114.0 1303.5,1114.9 1304.8,1114.1 1306.1,1114.2 1307.4,1114.3 1308.6,1114.6 1309.9,1115.4 1311.2,1116.1 1312.5,1115.2 1313.7,1115.4 1315.0,1116.5 1316.3,1116.1 1317.6,1116.1 1318.9,1115.9 1320.1,1116.3 1321.4,1117.6 1322.7,1116.4 1324.0,1116.8 1325.3,1117.8 1326.5,1118.2 1327.8,1118.4 1329.1,1117.9 1330.4,1118.8 1331.7,1118.4 1332.9,1118.0 1334.2,1118.5 1335.5,1119.1 1336.8,1119.2 1338.1,1118.4 1339.3,1118.7 1340.6,1120.1 1341.9,1118.9 1343.2,1120.2 1344.5,1119.6 1345.7,1119.6 1347.0,1119.8 1348.3,1120.2 1349.6,1121.2 1350.9,1120.0 1352.2,1121.3 1353.4,1120.6 1354.7,1120.5 1356.0,1121.6 1357.3,1121.1 1358.6,1121.0 1359.8,1121.5 1361.1,1122.3 1362.4,1122.6 1363.7,1122.3 1365.0,1121.5 1366.2,1122.9 1367.5,1122.8 1368.8,1123.4 1370.1,1123.6 1371.4,1122.8 1372.6,1123.7 1373.9,1123.8 1375.2,1123.1 1376.5,1123.4 1377.8,1123.6 1379.1,1123.7 1380.3,1123.9 1381.6,1123.6 1382.9,1123.9 1384.2,1125.2 1385.5,1124.5 1386.7,1125.1 1388.0,1125.6 1389.3,1125.6 1390.6,1124.9 1391.9,1126.1 1393.1,1126.1 1394.4,1126.5 1395.7,1126.3 1396.9,1126.5 1398.2,1126.7 1399.4,1126.0 1400.7,1126.7 1401.9,1126.5 1403.2,1127.3 1404.4,1126.4 1405.7,1127.2 1406.9,1127.0 1408.1,1127.9 1409.4,1127.3 1410.6,1128.3 1411.9,1128.4 1413.1,1128.6 1414.4,1127.6 1415.7,1129.0 1417.0,1128.9 1418.2,1128.9 1419.5,1129.0 1420.8,1128.2 1422.1,1129.7 1423.4,1129.3 1424.7,1129.3 1425.9,1129.3 1427.2,1130.2 1428.5,1130.3 1429.8,1130.6 1431.1,1129.7 1432.3,1130.1 1433.5,1130.1 1434.7,1130.0 1435.9,1130.5 1437.1,1130.1 1438.3,1131.5 1439.5,1130.7 1440.7,1130.6 1441.9,1130.8 1443.1,1132.0 1444.3,1131.3 1445.5,1131.9 1446.7,1131.9 1447.9,1132.7 1449.2,1133.1 1450.5,1132.2 1451.8,1132.9 1453.1,1133.5 1454.4,1132.9 1455.7,1133.8 1457.0,1133.7 1458.3,1133.1 1459.6,1134.2 1460.9,1133.9 1462.2,1133.3 1463.4,1134.2 1464.7,1134.7 1465.9,1134.4 1467.1,1134.4 1468.4,1134.5 1469.6,1135.4 1470.9,1135.2 1472.1,1134.6 1473.5,1135.0 1474.8,1135.1 1476.2,1136.2 1477.5,1136.0 1478.9,1135.2 1480.2,1136.6 1481.6,1135.4 1482.9,1136.4 1484.2,1136.3 1485.6,1136.9 1486.9,1136.6 1488.3,1136.2 1489.6,1137.0 1491.0,1137.7 1492.3,1137.8 1493.7,1137.2 1495.0,1137.2 1496.2,1138.1 1497.4,1138.4 1498.6,1137.6 1499.8,1138.8 1501.0,1139.1 1502.2,1138.4 1503.4,1138.4 1504.6,1139.1 1505.8,1139.6 1507.0,1138.6 1508.2,1138.9 1509.5,1139.1 1510.8,1139.9 1512.1,1139.1 1513.4,1139.9 1514.7,1140.0 1515.9,1140.4 1517.2,1139.7 1518.5,1141.2 1519.8,1141.4 1521.1,1140.8 1522.4,1141.4 1523.6,1140.5 1524.9,1141.9 1526.2,1141.4 1527.4,1141.9 1528.7,1142.2 1530.0,1141.6 1531.2,1142.6 1532.5,1141.6 1533.8,1141.5 1535.0,1142.4 1536.3,1143.2 1537.6,1143.3 1538.8,1143.6 1540.1,1143.0 1541.4,1143.8 1542.6,1143.3 1543.9,1142.8 1545.1,1143.7 1546.4,1144.1 1547.7,1143.6 1548.9,1144.1 1550.2,1143.6 1551.5,1143.8 1552.7,1144.2 1554.0,1144.5 1555.2,1144.5 1556.5,1144.0 1557.8,1144.0 1559.0,1144.7 1560.3,1145.4 1561.5,1145.6 1562.8,1144.8 1564.0,1145.0 1565.3,1145.5 1566.5,1145.1 1567.8,1145.9 1569.0,1146.5 1570.3,1145.5 1571.5,1146.2 1572.8,1146.5 1574.1,1146.7 1575.3,1146.7 1576.6,1146.8 1577.9,1146.2 1579.2,1147.2 1580.5,1147.5 1581.7,1146.2 1583.0,1147.7 1584.3,1147.0 1585.6,1146.6 1586.9,1146.6 1588.1,1147.9 1589.4,1147.8 1590.6,1147.1 1591.8,1147.7 1593.0,1148.0 1594.2,1148.7 1595.4,1147.7 1596.6,1148.5 1597.8,1147.8 1599.0,1147.8 1600.2,1147.8 1601.4,1148.3 1602.6,1148.7 1603.8,1148.3 1605.0,1148.2 1606.3,1148.4 1607.5,1148.2 1608.8,1148.5 1610.1,1148.8 1611.4,1149.2 1612.7,1148.8 1614.0,1149.3 1615.3,1149.4 1616.6,1150.3 1617.8,1149.6 1619.1,1150.4 1620.4,1149.8 1621.7,1149.4 1623.0,1150.1 1624.2,1149.5 1625.4,1149.6 1626.6,1149.5 1627.8,1150.6 1629.1,1151.1 1630.3,1150.3 1631.5,1150.3 1632.7,1150.5 1633.9,1150.4 1635.1,1151.0 1636.3,1150.6 1637.5,1150.3 1638.7,1151.5 1640.0,1151.1 1641.2,1150.3 1642.4,1151.7 1643.6,1151.6 1644.9,1151.0 1646.1,1151.6 1647.3,1152.1 1648.5,1151.3 1649.8,1151.4 1651.0,1151.3 1652.2,1151.7 1653.5,1152.0 1654.7,1152.2 1655.9,1152.6 1657.1,1151.3 1658.4,1151.8 1659.7,1152.6 1661.0,1152.6 1662.3,1152.3 1663.6,1152.6 1664.9,1152.1 1666.2,1153.1 1667.4,1152.6 1668.7,1152.4 1670.0,1152.1 1671.3,1152.1 1672.6,1153.4 1673.9,1153.3 1675.1,1152.2 1676.3,1152.7 1677.5,1153.1 1678.7,1153.2 1679.9,1153.1 1681.1,1154.0 1682.3,1153.2 1683.6,1153.6 1684.8,1154.3 1686.0,1154.0 1687.2,1153.8 1688.4,1153.6 1689.6,1153.8 1690.8,1154.3 1692.0,1154.7 1693.2,1154.0 1694.5,1154.3 1695.7,1154.5 1696.9,1154.5 1698.1,1155.5 1699.3,1155.1 1700.5,1154.8 1701.7,1155.0 1702.9,1155.9 1704.2,1155.0 1705.4,1156.0 1706.6,1155.1 1707.9,1155.5 1709.1,1155.4 1710.4,1156.8 1711.6,1155.9 1712.9,1156.2 1714.1,1156.1 1715.4,1156.6 1716.6,1157.5 1717.9,1157.6 1719.2,1158.1 1720.4,1158.3 1721.7,1157.9 1723.0,1158.7 1724.3,1157.5 1725.6,1159.0 1726.9,1158.4 1728.2,1158.2 1729.5,1159.3 1730.7,1159.6 1732.0,1159.0 1733.2,1158.7 1734.4,1160.1 1735.6,1160.1 1736.8,1160.0 1738.0,1160.8 1739.2,1159.5 1740.4,1159.7 1741.6,1159.9 1742.8,1159.9 1744.0,1161.2 1745.2,1161.2 1746.4,1160.6 1747.6,1160.8 1748.9,1161.0 1750.1,1161.9 1751.3,1162.1 1752.5,1162.8 1753.7,1162.0 1754.9,1163.1 1756.2,1162.4 1757.4,1162.5 1758.6,1162.5 1759.9,1162.6 1761.1,1164.0 1762.3,1164.2 1763.6,1163.9 1764.9,1163.3 1766.3,1163.5 1767.6,1163.6 1769.0,1164.1 1770.3,1164.9 1771.7,1164.0 1773.0,1164.9 1774.2,1165.3 1775.5,1164.4 1776.7,1165.2 1777.9,1165.9 1779.1,1165.7 1780.3,1165.6 1781.5,1166.5 1782.7,1166.2 1784.0,1165.9 1785.4,1166.1 1786.7,1167.1 1788.0,1167.1 1789.4,1167.3 1790.7,1166.9 1792.1,1166.3 1793.3,1166.5 1794.6,1166.9 1795.9,1167.5 1797.2,1166.5 1798.4,1167.9 1799.7,1167.9 1801.0,1167.6 1802.2,1166.9 1803.4,1168.2 1804.7,1167.6 1805.9,1168.1 1807.1,1168.0 1808.3,1168.4 1809.5,1167.9 1810.8,1168.9 1812.1,1168.9 1813.4,1169.0 1814.7,1168.5 1816.0,1168.1 1817.3,1168.3 1818.7,1168.1 1820.0,1169.2 1821.3,1169.1 1822.6,1169.2 1823.8,1169.3 1825.1,1169.6 1826.3,1169.1 1827.5,1168.6 1828.7,1169.3 1830.0,1168.5 1831.2,1169.1 1832.4,1168.5 1833.7,1169.6 1834.9,1169.1 1836.1,1168.8 1837.4,1169.8 1838.6,1168.5 1839.8,1169.9 1841.0,1169.6 1842.2,1168.7 1843.4,1169.7 1844.6,1169.4 1845.8,1170.0 1847.0,1169.5 1848.2,1169.3 1849.4,1170.1 1850.6,1168.8 1851.8,1169.9 1853.0,1168.8 1854.2,1169.1 1855.4,1168.9 1856.7,1170.2 1858.0,1169.5 1859.2,1170.0 1860.5,1169.3 1861.8,1170.0 1863.0,1169.9 1864.3,1169.1 1865.5,1169.7 1866.8,1170.1 1868.1,1169.4 1869.3,1170.1 1870.6,1169.5 1871.8,1169.7 1873.1,1170.6 1874.3,1170.7 1875.5,1170.8 1876.8,1170.0 1878.0,1170.2 1879.2,1170.6 1880.5,1170.6 1881.7,1170.2 1882.9,1170.9 1884.2,1170.2 1885.4,1171.1 1886.6,1170.4 1887.9,1169.8 1889.1,1170.9 1890.4,1170.0 1891.7,1170.9 1892.9,1170.0 1894.2,1171.5 1895.5,1170.9 1896.8,1171.3 1898.1,1170.4 1899.3,1171.2 1900.6,1170.9 1901.9,1170.8 1903.2,1171.7 1904.5,1170.5 1905.7,1171.3 1907.0,1170.8 1908.3,1172.1 1909.6,1172.2 1910.9,1170.9 1912.2,1171.7 1913.4,1171.8 1914.7,1172.2 1916.0,1172.3 1917.3,1171.8 1918.6,1172.8 1919.8,1171.7 1921.1,1171.7 1922.4,1172.9 1923.7,1171.8 1925.0,1172.0 1926.2,1172.6 1927.5,1172.5 1928.8,1172.3 1930.1,1173.6 1931.4,1172.9 1932.6,1173.5 1933.9,1172.8 1935.2,1173.9 1936.5,1172.9 1937.8,1174.1 1939.1,1173.7 1940.3,1174.4 1941.6,1174.1 1942.9,1174.0 1944.2,1174.0 1945.5,1174.6 1946.7,1174.0 1948.0,1173.6 1949.3,1175.0 1950.6,1174.9 1951.9,1174.8 1953.1,1175.0 1954.4,1174.3 1955.7,1174.7 1956.9,1175.4 1958.2,1175.8 1959.4,1175.8 1960.7,1174.7 1961.9,1175.6 1963.2,1175.5 1964.4,1175.4 1965.6,1175.1 1966.9,1175.2 1968.1,1175.9 1969.4,1176.0 1970.6,1175.7 1971.9,1176.0 1973.1,1176.4 1974.4,1176.9 1975.7,1176.7 1976.9,1176.2 1978.2,1177.5 1979.5,1176.8 1980.8,1177.8 1982.0,1178.0 1983.3,1176.8 1984.6,1177.6 1985.9,1178.3 1987.2,1177.5 1988.4,1177.9 1989.7,1177.7 1991.0,1177.4 1992.2,1177.8 1993.4,1177.7 1994.6,1178.1 1995.8,1178.8 1997.0,1178.8 1998.2,1179.6 1999.4,1179.3 2000.6,1178.9 2001.8,1179.9 2003.1,1179.5 2004.3,1179.5 2005.5,1180.2 2006.7,1180.0 2007.9,1179.6 2009.2,1180.1 2010.5,1179.7 2011.8,1180.9 2013.1,1179.9 2014.4,1181.2 2015.7,1179.9 2017.0,1179.9 2018.3,1180.9 2019.6,1180.5 2020.9,1181.1 2022.2,1180.6 2023.5,1181.8 2024.8,1181.7 2026.0,1181.8 2027.3,1182.3 2028.6,1182.5 2029.9,1182.1 2031.2,1182.3 2032.5,1181.3 2033.7,1181.5 2035.1,1182.2 2036.5,1183.1 2037.8,1182.2 2039.2,1182.7 2040.5,1181.9 2041.9,1182.7 2043.3,1183.5 2044.5,1183.1 2045.7,1183.6 2047.0,1182.4 2048.2,1182.8 2049.5,1182.8 2050.7,1184.0 2052.0,1182.9 2053.3,1184.3 2054.7,1183.3 2056.0,1183.8" fill="none" stroke="#FDCB1B" stroke-width="7.9" stroke-linejoin="round" stroke-linecap="butt" />
<path d="M590,918 L594,916 L599,919 L604,920 L607.5,927 L608.5,940 L607,950 L602,954 L597,953 L596,940 L592,935 Z" fill="#FDCB1B"/>
</g>
<polyline points="266.7,746.4 266.7,742.2 266.7,741.2 266.8,738.2 266.8,734.9 266.8,734.2 266.8,731.5 266.9,728.3 266.9,724.9 266.9,724.1 267.0,721.1 267.0,719.4 267.0,715.4 267.1,715.1 267.2,709.8 267.3,707.7 267.4,705.6 267.5,702.6 267.7,699.9 267.8,699.3 268.0,697.8 268.2,693.5 268.4,690.9 268.6,689.8 268.7,686.1 269.0,684.4 269.2,683.0 269.4,679.9 269.6,676.8 269.9,673.7 270.2,672.3 270.5,670.8 270.9,667.9 271.2,662.8 271.5,661.4 271.9,658.8 272.2,655.5 272.6,654.4 273.0,651.5 273.3,650.1 273.7,646.2 274.0,645.8 274.4,643.2 274.7,639.9 275.2,635.8 275.7,633.7 276.1,629.7 276.5,628.5 277.0,625.6 277.4,622.3 277.9,620.3 278.4,614.2 278.8,613.8 279.2,611.5 279.6,607.0 280.0,604.9 280.4,601.4 280.8,600.3 281.3,598.0 281.7,594.1 282.2,592.4 282.7,588.8 283.2,587.2 283.7,583.2 284.3,582.8 284.9,578.6 285.5,574.7 286.2,572.4 286.9,571.7 287.5,569.6 288.2,566.5 288.9,562.6 289.6,562.3 290.6,558.5 291.5,553.4 292.3,551.5 293.1,549.7 293.8,545.4 294.6,543.2 295.3,541.9 296.0,541.2 296.8,539.1 297.6,534.6 298.5,533.4 299.4,530.2 300.3,527.4 301.2,523.5 302.2,521.5 303.1,517.3 304.1,515.2 305.0,510.9 305.9,506.7 306.8,504.6 307.7,501.4 308.7,497.9 309.6,494.9 310.5,492.3 311.4,489.5 312.3,485.5 313.2,482.8 314.1,480.7 315.0,477.9 316.0,475.0 316.9,473.0 317.8,468.9 318.7,467.2 319.6,463.7 320.5,462.5 321.4,459.5 322.2,457.0 323.1,453.5 324.0,449.9 324.9,449.2 325.8,445.2 326.7,442.0 327.7,439.1 328.7,436.7 329.7,434.9 330.7,432.6 331.7,428.8 332.8,426.8 333.7,422.5 334.7,420.4 335.6,417.1 336.5,413.9 337.3,411.0 338.2,409.1 339.0,405.9 339.8,401.2 340.7,398.3 341.5,397.0 342.4,393.7 343.2,390.9 344.1,388.0 345.0,385.4 345.8,381.4 346.7,378.1 347.5,376.3 348.3,372.7 349.1,372.8 349.8,368.8 350.6,366.6 351.4,364.8 352.1,361.9 352.8,357.7 353.9,354.1 354.7,350.9 355.3,351.5 355.7,350.2 356.2,348.0 356.8,345.3 357.5,342.4 358.2,340.6 358.6,339.0" fill="none" stroke="#FF2B52" stroke-width="8.2" stroke-linejoin="round" stroke-linecap="butt" />
<polygon points="351.9,350.0 355.4,329.7 361.2,306.4 365.9,287.7 370.5,269.0 375.2,257.4 378.7,242.2 384.0,229.4 388.0,215.4 392.7,206.0 398.6,201.4 399.7,186.2 403.2,183.8 406.7,194.3 411.4,183.8 416.0,184.4 419.6,196.7 423.0,196.7 423.6,175.7 429.5,175.7 430.0,204.9 434.7,210.7 435.7,201.4 441.7,201.4 442.3,220.0 447.6,220.0 448.7,207.8 455.2,207.8 456.0,221.2 460.4,218.3 465.7,218.9 466.2,237.5 469.2,238.7 469.5,249.2 474.4,246.3 479.7,246.9 480.3,265.0 488.9,274.3 497.6,277.2 501.2,282.2 508.5,285.9 513.5,284.4 515.0,280.1 520.1,280.1 521.1,290.2 523.0,292.4 528.1,315.6 528.3,302.6 535.3,302.6 536.0,313.5 541.1,314.9 541.8,322.9 543.2,322.9 543.7,284.4 549.5,284.4 550.1,306.9 554.2,309.1 554.9,320.7 558.8,323.6 559.3,328.0 565.1,328.0 565.5,305.5 572.3,305.5 573.0,325.8 578.9,330.1 581.0,341.8 585.8,341.8 586.4,328.7 596.0,328.0 596.6,305.5 603.2,305.5 603.8,318.5 606.4,321.4 607.2,369.3 610.8,374.4 612.2,382.4 616.6,387.5 622.4,388.9 627.5,395.5 636.9,396.9 644.2,400.5 648.5,406.3 657.2,407.8 660.1,413.6 670.0,415.0 670.0,431.7 665.2,430.3 663.0,427.4 655.8,427.4 651.4,423.0 638.4,421.6 629.6,417.2 623.8,413.6 618.0,418.0 617.3,431.7 611.5,431.7 609.0,424.5 607.9,467.3 603.5,467.3 599.2,470.2 595.5,468.0 594.8,440.4 589.0,444.8 585.4,441.9 584.7,414.3 581.8,418.7 578.1,420.1 574.5,418.0 573.0,409.2 566.5,412.9 563.6,410.0 562.2,392.6 561.4,399.8 558.5,402.7 555.6,401.3 552.7,383.8 542.6,378.8 535.6,375.9 535.0,389.7 531.0,391.1 528.3,388.9 527.3,369.3 523.0,374.4 519.6,373.0 519.1,359.2 516.4,357.7 515.7,352.6 510.6,351.9 505.6,346.8 504.8,332.3 499.8,333.0 496.1,337.4 492.5,335.2 491.8,317.8 488.1,317.1 487.4,311.3 483.1,309.1 482.3,301.8 481.4,301.7 474.4,300.6 468.6,297.0 462.7,291.2 459.2,283.0 456.3,282.5 455.7,275.5 452.2,276.0 449.9,286.0 446.4,286.0 445.2,279.6 440.6,277.2 438.2,260.3 432.4,265.5 430.0,265.0 424.2,262.0 423.6,245.7 414.3,246.3 413.7,234.6 410.8,234.0 406.7,236.4 400.3,239.9 399.7,245.7 391.0,246.9 390.4,255.0 386.9,256.2 384.0,266.7 381.6,281.9 375.2,292.4 371.7,307.6 367.0,319.2 364.1,335.6 360.6,350.0" fill="#FF2B52" stroke="#FF2B52" stroke-width="1.2" stroke-linejoin="round"/>
<polyline points="670.0,426.6 671.2,419.7 672.4,427.8 673.7,420.8 674.9,427.6 675.9,422.8 676.9,427.9 677.9,422.1 678.9,428.3 679.9,425.0 680.9,429.3 681.9,423.8 683.0,431.4 684.1,426.2 685.2,432.2 686.3,425.6 687.4,431.9 688.5,428.2 689.6,433.5 690.6,428.6 691.7,432.7 692.7,428.1 693.7,434.2 694.7,430.1 695.7,435.3 696.7,431.3 697.7,434.8 698.7,431.9 699.7,436.4 700.7,433.6 701.8,437.3 702.8,432.8 703.9,438.1 705.1,434.1 706.2,439.7 707.4,436.2 708.6,439.5 709.7,436.3 710.8,441.7 712.0,438.1 713.1,441.8 714.2,438.1 715.4,444.2 716.5,440.3 717.7,444.5 718.8,440.6 720.0,444.8 721.2,442.5 722.3,445.6 723.5,442.2 724.7,446.9 725.8,443.3 727.0,446.8 728.2,444.6 729.4,447.8 730.5,445.0 731.7,448.6 732.9,445.0 734.0,448.9 735.2,445.6 736.4,449.8 737.6,446.5 738.7,450.5 739.9,447.8 741.1,451.4 742.2,449.4 743.4,452.8 744.6,449.0 745.7,452.7 746.9,449.9 748.1,453.8 749.2,450.5 750.4,454.0 751.6,452.2 752.7,455.1 753.9,452.8 755.0,456.7 756.2,453.3 757.4,457.1 758.5,454.8 759.7,458.3 760.9,456.1 762.0,458.3 763.2,456.1 764.4,459.3 765.5,456.6 766.7,459.7 767.9,458.1 769.0,460.5 770.2,459.4 771.4,461.1 772.5,460.0 773.7,462.2 774.9,460.4 776.1,463.0 777.2,461.3 778.4,463.9 779.6,461.8 780.7,464.8 781.9,462.8 783.1,465.0 784.3,463.2 785.4,465.5 786.6,463.5 787.8,466.0 788.9,464.2 790.1,466.7 791.3,465.4 792.4,467.6 793.6,465.8 794.8,467.9 795.9,466.9 797.1,469.1 798.3,467.3 799.4,468.9 800.6,467.7 801.8,469.8 802.9,468.6 804.1,470.2 805.2,468.8 806.4,470.8 807.6,469.7 808.7,471.8 809.9,470.3 811.1,471.9 812.2,471.0 813.4,472.6 814.6,471.2 815.7,473.0 816.9,472.0 818.1,473.4 819.2,472.3 820.4,474.0 821.6,472.8 822.8,474.5 823.9,473.4 825.1,474.8 826.3,474.2 827.4,475.8 828.6,474.5 829.8,476.2 831.0,475.7 832.1,475.9 833.3,475.7 834.5,475.9 835.6,477.0 836.8,477.3 838.0,476.8 839.1,477.8 840.3,477.1 841.5,478.3 842.6,477.7 843.8,478.6 845.0,478.5 846.1,479.2 847.3,478.7 848.4,479.6 849.6,480.1 850.8,479.5 851.9,480.1 853.1,481.0 854.3,481.1 855.4,481.5 856.6,482.0 857.8,481.9 858.9,481.5 860.1,482.2 861.3,483.2 862.4,482.9 863.6,483.5 864.8,483.1 865.9,483.5 867.1,484.7 868.3,484.7 869.5,484.7 870.6,484.0 871.8,485.1 873.0,484.4 874.1,486.2 875.3,486.6 876.5,486.4 877.7,485.8 878.8,487.1 880.0,486.2 881.2,487.6 882.3,487.3 883.5,486.6 884.7,488.5 885.8,487.9 887.0,488.8 888.2,488.8 889.3,488.8 890.5,489.6 891.7,488.7 892.8,490.2 894.0,489.4 895.2,489.1 896.3,489.9 897.5,489.6 898.6,489.9 899.8,491.1 901.0,490.4 902.1,490.7 903.3,491.2 904.5,491.4 905.6,492.7 906.8,492.9 908.0,493.1 909.1,493.5 910.3,492.7 911.5,493.5 912.6,492.8 913.8,494.1 915.0,494.1 916.1,494.1 917.3,493.4 918.4,493.3 919.6,494.9 920.8,494.4 921.9,494.7 923.1,495.3 924.3,494.2 925.4,495.4 926.6,495.1 927.8,495.9 928.9,495.4 930.1,495.2 931.3,496.7 932.4,495.7 933.6,496.7 934.8,497.0 935.9,496.2 937.1,497.2 938.3,496.8 939.5,496.7 940.6,496.9 941.8,498.4 943.0,497.5 944.1,498.0 945.3,498.1 946.5,497.5 947.7,499.0 948.8,499.1 950.0,499.5 951.2,498.8 952.3,498.7 953.5,499.1 954.7,500.0 955.8,500.0 957.0,499.7 958.2,500.1 959.3,499.6 960.5,501.2 961.7,500.5 962.8,500.8 964.0,501.4 965.1,500.5 966.3,501.6 967.5,501.1 968.6,502.1 969.8,501.0 971.0,501.5 972.1,502.3 973.3,502.2 974.5,502.2 975.6,502.7 976.8,502.2 978.0,502.8 979.1,502.1 980.3,503.7 981.5,502.9 982.6,504.1 983.8,503.8 985.0,504.0 986.2,504.2 987.3,503.5 988.5,504.8 989.7,504.1 990.8,505.3 992.0,505.3 993.2,505.3 994.4,505.7 995.5,505.2 996.7,505.8 997.9,506.4 999.0,505.2 1000.2,505.2 1001.4,505.9 1002.5,506.2 1003.7,505.7 1004.9,506.0 1006.0,507.3 1007.2,506.6 1008.4,506.3 1009.5,506.5 1010.7,507.3 1011.9,506.8 1013.0,507.4 1014.2,507.7 1015.3,507.6 1016.5,507.9 1017.7,508.6 1018.8,507.3 1020.0,509.1 1021.2,507.9 1022.3,507.7 1023.5,509.2 1024.7,509.0 1025.8,509.1 1027.0,508.6 1028.2,509.8 1029.4,509.1 1030.5,510.0 1031.7,509.3 1032.9,510.1 1034.0,510.3 1035.2,510.0 1036.4,510.3 1037.6,509.8 1038.7,510.9 1039.9,511.2 1041.1,510.4 1042.2,511.2 1043.4,511.7 1044.6,510.7 1045.7,512.2 1046.9,512.4 1048.1,511.0 1049.4,511.5 1050.6,511.3 1051.9,511.8 1053.0,511.6 1054.1,512.4 1055.2,512.1 1056.3,512.2 1057.4,512.6 1058.5,512.6 1059.6,513.4 1060.7,513.4 1061.8,512.4 1062.8,512.7 1063.8,512.4 1064.8,513.1 1065.9,512.9 1066.9,514.0 1067.9,514.3 1069.0,514.8 1070.0,513.5 1071.0,513.3 1072.0,514.7 1073.0,514.2 1074.0,515.3 1075.1,514.4 1076.1,514.4 1077.1,514.1 1078.1,515.8 1079.1,515.1 1080.1,515.1 1081.1,515.2 1082.1,515.9 1083.2,516.2 1084.2,515.7 1085.3,515.2 1086.4,515.8 1087.4,516.8 1088.5,516.0 1089.6,516.6 1090.6,516.6 1091.7,516.5 1092.7,516.9 1093.8,516.4 1094.9,517.1 1095.9,517.8 1097.0,516.5 1098.1,517.1 1099.1,518.2 1100.2,518.5 1101.3,516.9 1102.3,518.1 1103.4,518.3 1104.5,518.8 1105.5,518.2 1106.6,517.7 1107.7,518.2 1108.7,519.1 1109.8,519.2 1110.8,518.4 1111.9,519.3 1113.0,519.5 1114.0,519.6 1115.0,518.6 1116.1,519.4 1117.1,519.4 1118.1,520.0 1119.1,519.6 1120.2,519.4 1121.2,520.5 1122.2,519.9 1123.3,520.9 1124.3,520.2 1125.3,520.7 1126.3,521.3 1127.4,520.2 1128.4,521.4 1129.4,520.3 1130.5,522.0 1131.5,520.5 1132.6,521.9 1133.6,521.4 1134.6,521.1 1135.7,521.6 1136.7,522.0 1137.8,521.9 1138.8,521.5 1139.9,522.3 1140.9,522.1 1141.9,523.4 1143.0,522.5 1144.0,522.7 1145.1,522.4 1146.1,523.9 1147.1,522.8 1148.2,523.5 1149.2,524.0 1150.3,523.3 1151.3,524.1 1152.3,523.3 1153.4,523.1 1154.4,523.1 1155.5,524.0 1156.5,524.9 1157.6,523.8 1158.6,524.3 1159.6,525.0 1160.7,524.2 1161.7,524.1 1162.8,524.9 1163.8,524.8 1164.8,525.9 1165.9,525.9 1166.9,524.8 1168.0,525.5 1169.0,525.4 1170.0,524.8 1171.1,525.6 1172.1,526.6 1173.2,525.6 1174.2,526.2 1175.2,526.5 1176.3,525.5 1177.3,527.1 1178.4,525.8 1179.4,526.2 1180.5,527.1 1181.5,525.9 1182.5,526.7 1183.6,526.3 1184.6,527.0 1185.7,526.3 1186.7,526.7 1187.7,526.9 1188.8,526.7 1189.8,526.8 1190.9,527.1 1191.9,527.8 1193.0,527.2 1194.0,528.5 1195.0,527.9 1196.1,527.7 1197.1,527.7 1198.2,528.9 1199.2,527.6 1200.3,528.9 1201.3,527.8 1202.3,529.5 1203.4,528.6 1204.4,529.0 1205.5,529.6 1206.5,528.3 1207.6,528.3 1208.6,529.5 1209.6,529.4 1210.7,529.7 1211.7,529.0 1212.8,529.5 1213.8,529.0 1214.9,529.5 1215.9,529.3 1216.9,529.9 1218.0,529.5 1219.0,529.5 1220.1,530.3 1221.1,529.4 1222.2,530.7 1223.2,530.3 1224.2,529.9 1225.3,529.7 1226.3,530.5 1227.4,530.6 1228.4,531.1 1229.5,530.5 1230.5,530.7 1231.5,531.6 1232.6,530.6 1233.6,531.9 1234.7,531.9 1235.7,532.1 1236.8,532.1 1237.8,531.0 1238.8,532.1 1239.9,531.8 1240.9,531.1 1242.0,532.6 1243.0,532.1 1244.1,532.5 1245.1,532.1 1246.1,531.3 1247.2,532.8 1248.2,531.7 1249.3,531.9 1250.3,532.7 1251.3,532.0 1252.4,532.6 1253.4,533.1 1254.5,532.1 1255.5,533.2 1256.6,532.3 1257.6,533.1 1258.6,533.5 1259.7,533.6 1260.7,532.6 1261.8,532.9 1262.8,534.4 1263.8,533.5 1264.9,533.7 1265.9,533.7 1267.0,534.3 1268.0,534.5 1269.0,534.5 1270.1,534.1 1271.1,534.5 1272.2,534.5 1273.2,534.0 1274.2,535.5 1275.3,535.6 1276.3,535.4 1277.4,535.9 1278.4,535.0 1279.5,535.8 1280.5,534.8 1281.5,535.8 1282.6,535.8 1283.6,536.3 1284.7,536.3 1285.7,536.4 1286.7,535.4 1287.8,536.5 1288.8,536.0 1289.9,535.8 1290.9,536.0 1291.9,536.8 1293.0,537.0 1294.0,537.1 1295.1,536.9 1296.1,536.1 1297.2,536.1 1298.2,537.0 1299.2,536.4 1300.3,536.7 1301.3,536.4 1302.4,536.6 1303.4,537.7 1304.4,536.9 1305.5,538.1 1306.5,537.2 1307.6,538.3 1308.6,537.3 1309.7,537.4 1310.7,537.7 1311.7,537.1 1312.8,537.9 1313.8,537.9 1314.9,537.3 1315.9,538.9 1317.0,538.1 1318.0,537.5 1319.0,539.3 1320.1,538.1 1321.1,538.2 1322.2,537.9 1323.2,538.1 1324.3,539.3 1325.3,539.1 1326.3,539.0 1327.4,538.6 1328.4,538.8 1329.5,540.1 1330.5,539.1 1331.6,540.3 1332.6,540.2 1333.6,538.9 1334.7,540.3 1335.7,538.8 1336.8,540.1 1337.8,540.4 1338.9,540.3 1339.9,540.1 1340.9,540.6 1342.0,539.5 1343.0,540.3 1344.1,539.9 1345.1,540.2 1346.2,539.9 1347.2,540.9 1348.2,540.7 1349.3,541.1 1350.3,540.9 1351.4,541.0 1352.4,541.6 1353.5,541.5 1354.5,541.1 1355.5,540.8 1356.6,541.9 1357.6,541.0 1358.7,540.6 1359.7,541.1 1360.8,541.8 1361.8,542.3 1362.8,541.8 1363.9,541.9 1364.9,542.5 1366.0,542.3 1367.0,541.8 1368.0,541.9 1369.1,542.5 1370.1,541.8 1371.2,541.5 1372.2,542.4 1373.3,542.9 1374.3,541.9 1375.3,542.8 1376.4,543.2 1377.4,541.9 1378.5,542.0 1379.5,542.7 1380.5,542.5 1381.6,543.7 1382.6,543.9 1383.7,542.9 1384.7,543.6 1385.7,543.4 1386.8,542.7 1387.8,544.2 1388.9,542.8 1389.9,542.7 1391.0,543.5 1392.0,542.7 1393.0,543.7 1394.1,543.6 1395.1,544.6 1396.2,543.7 1397.2,544.6 1398.2,544.5 1399.3,544.3 1400.3,543.7 1401.4,543.9 1402.4,544.3 1403.4,544.2 1404.5,544.7 1405.5,544.5 1406.6,544.3 1407.6,544.9 1408.6,545.6 1409.7,544.3 1410.7,544.6 1411.8,544.1 1412.8,544.3 1413.9,544.3 1414.9,545.0 1415.9,545.8 1417.0,545.7 1418.0,546.2 1419.1,546.0 1420.1,545.7 1421.1,545.7 1422.2,544.8 1423.2,545.5 1424.3,545.3 1425.3,546.0 1426.4,545.1 1427.4,546.0 1428.4,545.8 1429.5,546.1 1430.5,546.0 1431.6,545.5 1432.6,546.7 1433.7,546.9 1434.7,546.6 1435.7,545.8 1436.8,546.7 1437.8,547.3 1438.9,547.6 1439.9,547.2 1441.0,546.0 1442.0,547.6 1443.0,547.2 1444.1,546.6 1445.1,547.8 1446.2,547.7 1447.2,547.9 1448.3,546.8 1449.3,547.5 1450.3,547.2 1451.4,547.1 1452.4,548.0 1453.5,547.8 1454.5,547.3 1455.6,547.8 1456.6,548.5 1457.6,547.9 1458.7,548.6 1459.7,548.1 1460.8,548.9 1461.8,547.2 1462.9,548.1 1463.9,548.3 1464.9,548.7 1466.0,549.1 1467.0,548.6 1468.1,548.4 1469.1,548.7 1470.2,548.6 1471.2,549.0 1472.2,549.5 1473.3,547.8 1474.3,548.4 1475.4,549.5 1476.4,548.1 1477.5,549.5 1478.5,548.2 1479.5,549.3 1480.5,549.6 1481.5,548.7 1482.6,549.0 1483.6,548.8 1484.6,549.7 1485.6,549.4 1486.6,549.6 1487.6,549.2 1488.6,549.7 1489.6,550.4 1490.7,550.1 1491.7,550.5 1492.7,549.3 1493.7,549.8 1494.7,549.6 1495.8,549.6 1496.8,550.5 1497.8,549.4 1498.9,550.1 1499.9,550.6 1501.0,550.9 1502.0,549.3 1503.0,549.8 1504.1,550.3 1505.1,551.1 1506.2,549.8 1507.2,551.1 1508.2,550.3 1509.3,550.6 1510.3,551.4 1511.4,549.9 1512.5,550.4 1513.5,550.1 1514.6,550.1 1515.6,550.5 1516.7,551.2 1517.7,551.1 1518.8,550.3 1519.9,551.6 1520.9,551.1 1522.0,550.5 1523.0,551.7 1524.1,551.8 1525.1,550.8 1526.2,552.1 1527.3,551.9 1528.4,550.9 1529.4,550.6 1530.5,552.2 1531.6,552.1 1532.6,550.9 1533.7,552.1 1534.8,552.2 1535.8,552.0 1536.9,552.4 1538.0,552.7 1539.1,551.6 1540.1,552.5 1541.2,552.7 1542.3,551.7 1543.4,552.4 1544.4,552.4 1545.5,552.8 1546.6,552.3 1547.7,551.8 1548.7,551.8 1549.8,552.4 1550.9,551.7 1551.9,553.0 1553.0,553.1 1554.1,552.0 1555.1,552.9 1556.1,552.9 1557.1,551.9 1558.2,553.1 1559.2,553.1 1560.2,552.3 1561.2,552.0 1562.3,552.4 1563.4,553.3 1564.5,552.8 1565.6,553.5 1566.7,552.3 1567.8,552.3 1568.9,552.8 1570.0,553.8 1571.1,552.5 1572.2,552.4 1573.2,553.7 1574.3,552.6 1575.4,553.6 1576.5,552.6 1577.6,553.0 1578.6,553.8 1579.7,554.2 1580.8,553.4 1581.9,553.5 1582.9,552.8 1584.0,553.4 1585.1,553.3 1586.2,554.4 1587.2,554.3 1588.3,554.4 1589.4,554.0 1590.5,554.4 1591.5,553.4 1592.6,553.9 1593.7,553.8 1594.7,553.8 1595.8,554.7 1596.8,553.8 1597.9,554.1 1598.9,554.1 1600.0,555.2 1601.0,554.8 1602.1,554.6 1603.1,554.4 1604.2,555.5 1605.2,555.6 1606.3,554.7 1607.3,555.0 1608.3,555.6 1609.3,554.6 1610.3,554.6 1611.3,554.4 1612.3,555.2 1613.3,555.7 1614.4,554.7 1615.4,555.2 1616.4,556.3 1617.4,555.4 1618.4,555.3 1619.5,556.2 1620.5,556.3 1621.6,555.5 1622.7,555.1 1623.7,556.1 1624.8,556.4 1625.9,556.8 1626.9,556.4 1628.0,555.8 1629.1,556.2 1630.1,555.9 1631.2,556.2 1632.3,556.4 1633.3,557.2 1634.4,557.3 1635.4,557.4 1636.5,556.7 1637.5,557.6 1638.6,556.2 1639.6,557.7 1640.6,557.3 1641.7,557.8 1642.7,557.0 1643.8,558.1 1644.8,556.5 1645.9,558.0 1646.9,558.1 1648.0,557.3 1649.1,558.2 1650.1,557.2 1651.2,558.2 1652.3,557.8 1653.3,557.8 1654.4,557.5 1655.5,558.6 1656.5,558.6 1657.6,557.5 1658.7,559.2 1659.7,557.9 1660.8,558.2 1661.9,558.4 1662.9,558.8 1664.0,559.4 1665.1,559.6 1666.1,559.1 1667.2,558.6 1668.2,558.2 1669.3,558.2 1670.4,559.1 1671.4,559.3 1672.5,559.1 1673.5,560.2 1674.6,559.2 1675.6,559.2 1676.7,559.4 1677.7,559.0 1678.8,560.4 1679.8,559.8 1680.9,559.8 1681.9,559.7 1683.0,559.4 1684.0,559.6 1685.0,560.0 1686.1,559.9 1687.1,560.9 1688.2,560.3 1689.2,559.7 1690.3,559.5 1691.3,559.7 1692.3,560.1 1693.4,560.9 1694.4,561.2 1695.5,560.1 1696.5,561.1 1697.6,560.5 1698.6,560.8 1699.6,560.8 1700.7,560.0 1701.7,560.1 1702.8,561.2 1703.8,561.3 1704.9,560.8 1705.9,561.8 1706.9,561.7 1708.0,560.8 1709.0,560.4 1710.1,561.4 1711.1,561.6 1712.2,560.9 1713.2,560.6 1714.2,561.4 1715.3,560.7 1716.3,562.0 1717.4,561.8 1718.4,561.2 1719.5,561.6 1720.5,561.3 1721.5,561.2 1722.6,561.2 1723.6,562.4 1724.7,561.8 1725.7,562.3 1726.8,561.7 1727.8,562.6 1728.8,562.2 1729.9,562.4 1730.9,561.9 1732.0,562.3 1733.0,561.7 1734.1,563.1 1735.1,562.6 1736.1,562.4 1737.2,562.6 1738.2,561.7 1739.3,562.1 1740.3,562.0 1741.3,563.1 1742.4,561.6 1743.4,562.4 1744.5,563.2 1745.5,563.1 1746.6,563.0 1747.6,562.3 1748.6,562.2 1749.7,563.1 1750.7,562.4 1751.8,563.2 1752.8,562.5 1753.8,563.3 1754.9,563.0 1755.9,563.4 1757.0,563.8 1758.0,562.7 1759.0,563.8 1760.1,562.1 1761.1,563.7 1762.2,562.2 1763.2,563.1 1764.2,562.9 1765.3,563.6 1766.3,562.8 1767.4,562.6 1768.4,563.6 1769.5,563.2 1770.5,563.6 1771.5,563.2 1772.6,562.4 1773.6,563.7 1774.7,562.7 1775.7,563.2 1776.7,562.4 1777.8,562.9 1778.8,563.6 1779.9,563.8 1780.9,563.6 1781.9,563.2 1783.0,563.8 1784.0,563.7 1785.1,562.9 1786.1,563.5 1787.2,563.6 1788.2,563.8 1789.2,562.9 1790.3,563.1 1791.3,563.2 1792.4,562.8 1793.4,563.2 1794.4,563.9 1795.5,563.7 1796.5,562.9 1797.6,563.9 1798.6,562.8 1799.7,564.0 1800.7,562.9 1801.7,562.8 1802.8,563.1 1803.8,563.6 1804.9,563.1 1805.9,564.3 1807.0,564.4 1808.0,563.2 1809.0,564.0 1810.1,563.9 1811.1,563.7 1812.2,563.1 1813.2,564.4 1814.3,564.4 1815.3,562.7 1816.3,563.3 1817.4,563.2 1818.4,563.0 1819.5,563.4 1820.5,564.3 1821.6,562.7 1822.6,564.1 1823.6,563.2 1824.7,562.7 1825.7,564.3 1826.8,563.1 1827.8,563.0 1828.9,562.9 1829.9,563.3 1830.9,562.9 1832.0,563.0 1833.0,563.1 1834.1,563.7 1835.1,563.4 1836.2,563.2 1837.2,563.6 1838.2,564.0 1839.3,564.0 1840.3,563.3 1841.4,564.3 1842.4,564.1 1843.5,563.7 1844.5,563.6 1845.5,563.3 1846.6,563.0 1847.6,564.3 1848.7,563.9 1849.7,563.0 1850.8,564.5 1851.8,564.4 1852.8,562.9 1853.9,564.1 1854.9,563.3 1856.0,563.9 1857.0,564.4 1858.0,563.6 1859.1,563.9 1860.1,564.2 1861.2,563.4 1862.2,564.2 1863.3,563.9 1864.3,564.9 1865.3,563.5 1866.4,564.5 1867.4,563.3 1868.5,563.7 1869.5,563.5 1870.5,563.6 1871.6,564.3 1872.6,563.7 1873.7,564.9 1874.7,563.6 1875.7,564.6 1876.8,565.1 1877.8,563.8 1878.9,564.0 1879.9,565.0 1881.0,564.5 1882.0,565.4 1883.0,564.4 1884.1,564.5 1885.1,565.6 1886.2,564.5 1887.2,565.7 1888.2,565.6 1889.3,564.4 1890.3,565.0 1891.4,565.8 1892.4,564.4 1893.4,565.7 1894.5,565.6 1895.5,565.6 1896.6,565.4 1897.6,564.5 1898.6,566.1 1899.7,564.6 1900.7,565.9 1901.8,565.8 1902.8,565.2 1903.9,565.9 1904.9,565.4 1905.9,566.1 1907.0,564.8 1908.0,566.5 1909.1,565.5 1910.1,566.3 1911.1,565.8 1912.2,566.5 1913.2,565.6 1914.3,566.1 1915.3,565.2 1916.4,566.1 1917.4,565.4 1918.4,566.9 1919.5,566.6 1920.5,566.2 1921.6,567.2 1922.6,567.2 1923.7,567.3 1924.7,565.8 1925.7,566.9 1926.8,567.0 1927.8,566.9 1928.9,565.9 1929.9,567.6 1931.0,566.8 1932.0,567.1 1933.0,567.5 1934.1,566.6 1935.1,566.2 1936.2,567.9 1937.2,566.8 1938.3,566.4 1939.3,566.7 1940.3,568.3 1941.4,567.9 1942.4,567.0 1943.5,566.9 1944.5,568.3 1945.6,568.0 1946.6,567.9 1947.6,567.1 1948.7,567.7 1949.7,568.7 1950.8,567.1 1951.8,567.9 1952.9,567.3 1953.9,569.0 1954.9,567.5 1956.0,569.0 1957.0,568.9 1958.1,568.7 1959.1,567.5 1960.2,568.8 1961.2,568.4 1962.2,568.5 1963.3,567.9 1964.3,568.6 1965.4,569.2 1966.4,568.0 1967.5,569.4 1968.5,568.7 1969.5,568.4 1970.5,568.4 1971.6,568.8 1972.6,569.2 1973.6,569.1 1974.6,569.7 1975.6,569.1 1976.7,569.1 1977.7,570.0 1978.7,568.7 1979.7,568.3 1980.7,568.9 1981.7,568.9 1982.8,568.6 1983.8,569.2 1984.8,568.5 1985.9,570.2 1986.9,569.4 1988.0,570.2 1989.0,569.9 1990.1,570.0 1991.1,570.0 1992.2,569.2 1993.2,570.0 1994.3,569.1 1995.3,569.8 1996.4,569.9 1997.4,570.3 1998.5,569.2 1999.5,569.5 2000.6,570.4 2001.6,570.4 2002.7,570.8 2003.8,569.2 2004.8,569.4 2005.9,569.3 2006.9,570.4 2008.0,570.5 2009.1,570.3 2010.1,570.6 2011.2,570.2 2012.2,570.3 2013.3,570.9 2014.4,570.5 2015.4,570.5 2016.5,570.4 2017.5,570.3 2018.5,570.8 2019.6,570.5 2020.6,569.7 2021.7,570.2 2022.7,570.3 2023.8,570.3 2024.8,570.6 2025.9,570.2 2026.9,570.3 2027.9,570.4 2028.9,570.3 2029.9,571.4 2030.9,569.8 2031.9,569.7 2032.9,571.0 2033.9,570.4 2034.9,570.5 2035.9,570.8 2036.9,570.4 2037.9,570.2 2039.0,569.8 2040.0,571.4 2041.0,571.5 2042.0,570.3 2043.1,570.6 2044.1,570.4 2045.1,569.9 2046.2,571.4 2047.2,571.3 2048.3,570.2 2049.3,570.3 2050.4,571.1 2051.5,571.2 2052.6,570.6 2053.7,570.5 2054.9,570.2 2056.0,570.7" fill="none" stroke="#FF2B52" stroke-width="8.8" stroke-linejoin="round" stroke-linecap="butt" />
<g opacity="0.85">
<polyline points="263.5,686.5 263.5,685.4 263.5,684.1 263.5,681.6 263.4,681.2 263.4,680.6 263.4,678.9 263.4,677.2 263.4,675.4 263.4,674.0 263.4,674.0 263.4,671.5 263.4,671.6 263.4,670.0 263.5,668.2 263.5,667.5 263.6,666.2 263.6,664.2 263.8,662.0 264.0,661.7 264.3,660.2 265.3,657.7 266.5,657.2 268.0,655.0 269.8,652.3 271.7,651.2 273.8,650.5 275.9,650.1 278.0,648.8 279.9,647.8 281.6,647.2 283.2,644.3 284.7,642.9 285.4,640.8 286.0,640.6 286.7,639.2 287.4,636.7 288.1,635.9 288.8,633.7 289.5,632.9 290.2,632.0 290.9,630.7 291.5,628.9 292.1,627.1 292.6,626.0 293.2,625.6 293.7,623.6 294.2,622.5 294.7,621.6 295.2,620.5 295.7,618.1 296.1,616.5 296.4,615.8 296.8,614.1 297.3,613.2 297.8,610.3 298.2,608.9 298.7,607.7 299.1,607.0 299.6,604.2 300.1,602.8 300.5,601.3 301.0,600.0 301.4,598.9 301.9,597.8 302.3,597.2 302.8,595.3 303.2,594.1 303.7,592.7 304.1,592.1 304.6,591.1 305.0,589.0 305.5,588.6 305.9,586.2 306.4,586.2 306.8,584.1 307.3,583.1 307.7,581.3 308.2,579.9 308.6,578.3 309.0,578.5 309.4,576.3 309.8,575.7 310.2,574.1 310.6,573.0 311.1,571.2 311.5,569.9 311.9,569.0 312.3,568.4 312.7,566.9 313.1,564.7 313.5,564.8 313.9,563.1 314.3,561.2 314.7,560.3 315.1,559.0 315.5,558.9 315.9,557.2 316.3,555.6 316.7,554.2 317.1,553.1 317.5,551.8 318.0,550.7 318.4,550.3 318.8,549.1 319.2,547.7 319.6,546.8 320.0,545.2 320.4,543.0 320.8,541.6 321.2,540.6 321.7,539.6 322.1,538.8 322.5,538.1 322.9,536.5 323.3,535.0 323.8,533.2 324.3,533.1 324.7,531.3 325.2,529.1 325.7,527.2 326.2,527.4 326.7,524.7 327.1,524.3 327.6,521.6 328.1,521.1 328.5,519.3 328.9,519.0 329.3,516.7 329.8,515.0 330.2,513.9 330.6,513.8 331.0,512.8 331.4,510.9 331.8,509.8 332.2,507.8 332.6,506.5 333.0,504.9 333.4,505.3 333.8,502.3 334.2,502.0 334.6,500.1 335.1,498.5 335.5,497.6 335.9,497.2 336.3,494.6 336.7,493.2 337.1,492.8 337.5,491.6 337.9,490.1 338.3,488.2 338.7,488.2 339.1,485.6 339.5,484.5 339.9,483.3 340.4,482.6 340.8,481.3 341.2,480.2 341.6,479.2 342.1,478.1 342.6,476.0 343.1,473.8 343.6,473.9 344.0,471.0 344.4,470.3 344.8,468.7 345.2,468.3 345.6,467.4 346.0,465.0 346.4,464.0 346.7,463.8 347.1,462.3 347.4,460.0 347.8,459.8 348.1,458.8 348.4,456.9 348.8,455.2 349.1,454.8 349.4,452.9 349.8,451.3 350.1,450.0 350.4,449.1 350.8,447.4 351.1,446.5 351.4,445.5 351.8,444.2 352.1,442.6 352.4,442.0 352.7,439.5 353.1,438.6 353.4,438.4 353.7,436.9 354.1,435.7 354.4,434.2 354.7,432.4 355.1,431.6 355.4,429.9 355.7,427.8 356.0,426.7 356.4,425.1 356.7,425.2 357.0,422.9 357.3,421.7 357.7,420.7 358.0,418.6 358.3,418.4 358.6,417.4 358.9,416.1 359.2,415.1 359.5,412.8 359.8,411.3 360.2,411.2 360.5,409.8 360.8,407.9 361.2,406.5 361.5,404.9 361.8,404.8 362.1,402.9 362.5,402.3 362.8,400.3 363.1,399.0 363.4,398.2 363.7,397.4 364.0,396.4 364.4,394.1 364.7,393.3 365.0,391.4 365.4,390.8 365.7,389.3 366.0,387.6 366.3,385.9 366.7,384.4 367.0,384.2 367.3,382.7 367.6,380.5 367.8,378.9 368.1,377.8 368.4,377.9 368.7,374.9 369.0,375.0 369.2,373.2 369.5,372.0 369.8,370.7 370.1,369.1 370.3,368.1 370.6,365.9 370.9,366.0 371.2,363.2 371.5,361.9 371.8,361.5 372.0,360.1 372.3,359.0 372.6,357.4 372.9,356.5 373.2,353.6 373.4,352.2 373.7,351.2 374.0,350.8 374.3,348.4 374.6,347.7 374.9,346.8 375.2,344.4 375.5,343.8 375.7,343.1 376.0,341.5 376.3,339.6 376.6,338.4 376.9,336.8 377.2,336.7 377.5,335.1 377.8,333.7 378.1,331.8 378.4,331.4 378.7,329.7 379.1,328.8 379.5,326.5 379.9,326.0 380.2,324.2 380.6,322.4 381.0,321.2 381.4,320.3 381.8,318.4 382.2,318.0 382.6,315.0 383.0,315.4 383.4,313.8 383.9,312.0 384.4,311.3 384.9,308.6 385.4,307.7 385.9,307.2 386.4,306.2 386.9,304.1 387.5,303.9 388.0,302.0 388.6,299.4 389.3,298.0 389.9,296.4 390.4,296.0 390.9,294.4 391.5,293.1 392.0,292.2 392.6,290.0 393.3,290.0 393.9,288.3 394.5,286.3 395.0,284.7 395.6,282.9 396.1,282.1 396.6,280.2 397.1,280.0 397.8,278.4 398.6,276.4 400.1,275.1 401.7,273.3 403.2,273.0 404.8,272.9 406.4,272.2 407.9,272.4 409.0,272.8 410.0,271.9 411.4,272.2 413.5,272.0 414.8,272.9 416.0,273.5 418.4,275.6 420.5,276.5 422.5,278.5 424.2,279.2 425.5,281.3 426.6,282.4 427.7,283.2 428.9,281.9 430.1,281.2 431.2,281.0 432.0,283.5 432.2,284.2 432.4,285.4 432.6,286.3 433.1,287.5 433.6,289.9 435.2,292.3 437.3,293.2 439.4,296.5 440.6,298.0 441.7,299.3 443.0,300.9 444.2,301.9 445.3,303.0 446.4,304.8 447.2,307.4 448.1,309.5 448.8,309.7 449.5,311.3 450.3,313.7 451.1,315.4 452.0,317.5 452.9,318.3 453.9,321.2 454.8,321.8 455.9,324.3 456.9,324.8 458.0,326.1 459.2,327.2 460.4,329.9 461.6,330.4 462.7,332.3 463.9,332.4 465.0,335.0 466.1,337.1 466.8,338.8 467.5,340.0 468.2,339.8 469.0,341.8 469.7,344.4 470.5,345.1 471.1,347.2 471.7,347.3 472.4,348.3 473.0,351.3 473.5,351.3 474.1,353.1 474.6,353.9 475.1,355.5 475.7,357.4 476.4,358.8 477.2,360.0 477.9,360.3 478.7,362.7 479.9,362.6 481.2,364.8 482.4,367.1 483.8,367.1 485.2,368.5 486.5,370.1 487.8,370.7 489.0,372.8 490.3,374.0 491.3,374.4 492.4,377.2 493.4,377.1 494.3,379.7 495.3,380.5 496.2,381.6 497.1,382.9 498.1,386.1 499.0,387.2 499.7,387.8 500.5,389.6 501.2,391.2 502.0,392.3 502.7,392.8 503.4,393.6 504.2,395.3 504.9,397.4 505.6,398.1 506.3,399.2 507.0,400.7 507.7,401.1 508.5,403.0 509.3,405.1 510.1,405.5 510.9,408.2 511.6,408.2 512.4,410.6 513.3,411.9 514.1,412.4 515.0,415.1 516.6,415.4 518.2,416.1 520.0,417.3 521.8,418.4 523.5,419.0 525.2,419.2 526.7,420.6 528.2,423.0 529.6,423.4 531.1,425.0 532.5,427.7 533.9,429.5 534.9,431.0 535.9,431.2 536.9,432.4 537.7,435.0 538.4,436.0 539.2,436.8 539.9,437.5 541.3,440.0 542.6,441.4 544.6,442.6 546.4,442.3 548.4,441.4 549.7,442.9 551.1,445.8 551.8,446.0 552.6,447.4 553.3,449.1 554.1,451.3 555.1,451.3 556.1,452.6 557.1,454.2 558.5,454.2 560.0,455.3 561.5,455.9 562.9,455.2 564.3,456.5 565.8,455.8 567.2,456.9 568.6,459.0 570.1,460.3 571.5,462.7 573.0,462.8 574.5,465.5 576.2,466.9 578.0,468.0 579.2,468.5 580.4,470.4 581.6,471.7 583.2,472.5 584.7,473.8 586.9,475.6 588.5,476.4 590.0,477.4 590.7,478.2 591.4,480.0 592.0,481.5 592.6,483.6 594.0,484.8 595.0,482.6 595.9,480.8 596.6,479.1 597.3,478.3 598.1,477.0 599.8,474.0 600.3,476.3 600.8,478.2 601.0,478.5 601.1,480.8 601.3,481.2 601.4,482.9 601.7,484.9 601.9,485.3 602.2,487.1 602.7,489.8 603.2,489.7 603.7,491.4 604.2,493.0 605.0,494.7 605.7,495.7 607.5,498.7 609.7,500.5 611.2,500.5 612.7,501.8 614.0,502.6 615.2,504.1 616.5,504.2 618.0,506.0 619.6,507.0 621.1,507.1 622.5,509.1 623.9,509.1 625.3,510.9 626.7,510.6 628.1,512.0 629.5,512.7 630.9,513.0 632.4,514.8 633.8,514.3 635.1,515.5 636.5,516.4 637.8,518.3 639.2,518.4 640.5,518.4 641.9,519.7 643.2,521.0 644.6,522.2 645.9,521.8 647.3,523.8 648.6,523.9 650.0,524.9 651.3,525.6 652.6,526.4 653.9,528.2 655.2,528.8 656.5,529.6 657.8,530.1 659.1,530.8 660.4,530.6 661.7,531.2 663.0,533.4 664.3,533.9 665.6,534.6 666.9,534.8 668.2,535.5 669.5,537.4 670.8,537.5 672.1,537.3 673.4,538.6 674.7,539.3 676.0,539.5 677.3,541.8 678.6,542.3 679.9,542.9 681.2,542.1 682.5,543.5 683.8,543.6 685.1,545.3 686.3,546.1 687.6,546.7 688.9,547.3 690.2,546.7 691.5,547.2 692.8,547.9 694.1,549.9 695.4,550.5 696.7,550.5 698.0,550.6 699.3,552.3 700.6,551.6 701.9,552.6 703.2,552.6 704.5,555.0 705.8,554.6 707.1,555.8 708.3,556.4 709.6,556.6 710.9,557.9 712.2,558.1 713.5,559.0 714.8,559.6 716.1,558.6 717.4,560.3 718.7,559.9 720.0,560.7 721.3,561.3 722.6,563.0 723.9,561.8 725.2,563.1 726.5,563.0 727.8,565.2 729.1,564.8 730.4,565.7 731.7,565.9 733.0,566.8 734.3,566.6 735.6,567.2 736.9,568.3 738.2,568.8 739.5,569.6 740.8,569.1 742.1,570.5 743.4,570.8 744.7,571.0 746.0,571.2 747.3,571.9 748.6,571.5 749.9,572.0 751.2,572.9 752.5,573.0 753.8,573.3 755.0,575.0 756.3,575.4 757.6,575.7 758.9,575.4 760.2,576.8 761.5,577.4 762.8,577.4 764.1,577.2 765.4,578.2 766.7,578.3 768.0,578.5 769.3,578.7 770.6,580.3 771.9,580.3 773.2,581.3 774.5,580.3 775.8,580.8 777.1,581.6 778.4,581.2 779.7,582.0 781.0,582.8 782.3,583.1 783.6,584.3 784.9,584.1 786.2,584.6 787.5,584.9 788.8,585.6 790.1,585.3 791.4,585.0 792.7,587.3 794.0,587.4 795.3,586.6 796.6,587.0 797.9,587.7 799.2,588.9 800.5,588.5 801.8,588.7 803.0,590.1 804.3,589.7 805.6,590.6 806.9,591.2 808.2,591.4 809.5,591.5 810.8,592.4 812.1,592.8 813.4,593.4 814.7,594.0 816.0,594.3 817.3,594.6 818.6,594.5 819.9,596.4 821.2,596.6 822.5,596.5 823.8,596.0 825.1,596.8 826.4,598.4 827.7,598.0 829.0,598.0 830.3,599.4 831.6,599.9 832.9,598.9 834.2,600.0 835.5,600.4 836.8,600.0 838.1,600.7 839.4,601.6 840.7,602.0 842.0,602.3 843.3,602.6 844.6,602.5 845.9,602.3 847.2,602.5 848.4,604.3 849.7,604.7 851.0,605.1 852.3,603.9 853.6,605.5 854.9,604.7 856.2,605.4 857.5,605.4 858.8,606.9 860.1,607.2 861.4,607.5 862.7,607.0 864.0,608.4 865.3,607.5 866.6,608.4 867.9,608.9 869.2,608.4 870.5,609.0 871.8,608.8 873.1,610.4 874.4,609.6 875.7,609.8 877.0,610.4 878.3,611.4 879.6,611.7 880.9,611.8 882.2,612.7 883.5,612.9 884.8,612.2 886.1,613.1 887.4,612.8 888.7,613.3 890.0,613.4 891.3,613.6 892.6,614.4 893.9,615.7 895.2,615.6 896.4,614.9 897.7,615.5 899.0,616.5 900.3,616.7 901.6,616.1 902.9,616.5 904.2,617.7 905.5,618.1 906.8,617.4 908.1,619.0 909.4,618.3 910.7,619.2 912.0,619.3 913.3,619.3 914.6,620.6 915.9,619.9 917.2,620.2 918.4,620.6 919.7,621.4 921.0,621.9 922.3,621.8 923.6,621.6 924.9,622.2 926.2,622.3 927.5,623.2 928.8,623.5 930.1,623.4 931.4,622.7 932.7,623.7 934.0,623.7 935.3,623.7 936.6,625.0 937.9,624.3 939.2,625.5 940.5,625.4 941.8,625.7 943.1,626.5 944.4,626.9 945.7,627.7 947.0,628.0 948.3,628.0 949.6,627.3 950.9,628.4 952.2,628.4 953.5,629.5 954.8,628.9 956.1,629.0 957.4,628.7 958.7,629.8 960.0,630.2 961.3,630.0 962.6,629.9 963.9,630.9 965.1,630.4 966.4,630.8 967.7,631.6 969.0,631.7 970.3,632.2 971.6,632.5 972.9,632.5 974.2,632.2 975.5,632.3 976.8,633.5 978.1,634.5 979.4,633.5 980.7,633.8 982.0,634.0 983.3,635.0 984.6,634.8 985.9,635.5 987.2,634.3 988.5,634.8 989.8,635.1 991.1,635.6 992.4,635.9 993.7,636.1 995.0,637.4 996.3,636.6 997.6,637.1 998.9,638.0 1000.2,637.7 1001.5,637.8 1002.8,638.5 1004.1,637.8 1005.4,637.5 1006.7,639.4 1008.0,638.9 1009.3,639.2 1010.6,638.5 1011.9,640.0 1013.1,639.5 1014.4,640.3 1015.7,639.9 1017.0,641.2 1018.3,640.5 1019.6,640.5 1020.9,641.9 1022.2,640.9 1023.5,641.2 1024.8,641.8 1026.1,642.9 1027.4,641.5 1028.7,641.9 1030.0,643.1 1031.3,642.0 1032.6,642.8 1033.9,643.7 1035.2,643.7 1036.5,644.0 1037.8,643.0 1039.1,644.6 1040.4,643.8 1041.7,644.9 1043.0,644.4 1044.3,645.4 1045.6,644.9 1046.9,644.7 1048.2,644.7 1049.5,645.6 1050.7,645.1 1052.0,645.6 1053.3,647.1 1054.6,646.9 1055.9,647.7 1057.1,646.7 1058.4,647.6 1059.7,647.8 1061.0,647.4 1062.3,647.9 1063.6,649.3 1064.8,649.2 1066.1,649.0 1067.4,649.4 1068.7,650.1 1070.0,650.5 1071.2,650.0 1072.4,649.2 1073.6,650.9 1074.8,649.8 1076.0,650.1 1077.2,650.1 1078.4,650.9 1079.6,651.2 1080.8,651.2 1082.0,651.4 1083.2,650.9 1084.4,652.1 1085.7,652.0 1086.9,651.7 1088.1,652.9 1089.3,653.2 1090.5,653.3 1091.7,653.6 1093.0,652.1 1094.2,652.9 1095.4,653.1 1096.6,652.9 1097.9,654.0 1099.1,654.4 1100.3,653.2 1101.5,654.0 1102.7,655.0 1104.0,655.1 1105.2,654.4 1106.4,654.0 1107.6,654.8 1108.9,655.0 1110.1,655.7 1111.3,654.7 1112.5,655.1 1113.7,656.5 1115.0,654.9 1116.2,656.1 1117.4,655.4 1118.6,656.7 1119.8,656.3 1121.1,657.3 1122.3,656.2 1123.5,657.6 1124.7,656.5 1126.0,656.4 1127.2,656.6 1128.4,656.7 1129.6,657.5 1130.8,658.7 1132.0,657.7 1133.3,658.5 1134.5,657.4 1135.7,658.4 1136.9,658.6 1138.1,658.0 1139.3,659.0 1140.5,658.9 1141.8,658.9 1143.0,659.9 1144.2,659.8 1145.4,658.9 1146.6,659.1 1147.8,659.1 1149.1,659.6 1150.3,660.5 1151.5,661.2 1152.7,661.3 1153.9,661.3 1155.1,660.1 1156.3,661.5 1157.6,661.6 1158.8,661.2 1160.0,662.3 1161.2,661.7 1162.4,661.0 1163.6,661.3 1164.8,661.3 1166.0,662.3 1167.3,662.5 1168.5,663.0 1169.7,661.6 1170.9,661.8 1172.1,663.7 1173.3,662.5 1174.6,662.7 1175.8,663.9 1177.0,662.7 1178.2,664.0 1179.4,664.4 1180.6,663.9 1181.8,664.1 1183.1,663.2 1184.3,664.4 1185.5,664.6 1186.7,665.0 1187.9,664.7 1189.1,664.1 1190.3,664.4 1191.6,665.3 1192.8,664.4 1194.0,664.6 1195.2,665.0 1196.4,666.1 1197.6,665.8 1198.9,665.6 1200.1,666.8 1201.3,666.3 1202.5,665.8 1203.7,666.5 1204.9,667.1 1206.2,666.4 1207.4,666.7 1208.6,667.0 1209.8,667.9 1211.0,667.4 1212.2,666.7 1213.5,667.6 1214.7,667.2 1215.9,667.6 1217.1,668.2 1218.3,667.1 1219.6,668.1 1220.8,667.9 1222.0,668.5 1223.2,669.0 1224.4,668.5 1225.6,668.9 1226.9,668.5 1228.1,668.5 1229.3,669.1 1230.5,669.3 1231.7,668.9 1232.9,670.0 1234.2,669.6 1235.4,669.5 1236.6,669.4 1237.8,670.6 1239.0,670.9 1240.2,671.1 1241.5,670.0 1242.7,669.8 1243.9,670.9 1245.1,669.9 1246.3,671.6 1247.5,671.4 1248.7,670.9 1250.0,671.2 1251.2,671.8 1252.4,671.0 1253.6,671.5 1254.8,672.4 1256.0,672.4 1257.2,672.3 1258.5,671.6 1259.7,671.9 1260.9,672.1 1262.1,671.9 1263.3,673.1 1264.5,673.1 1265.8,673.9 1267.0,673.4 1268.2,674.2 1269.4,673.5 1270.6,673.7 1271.8,673.4 1273.0,673.9 1274.2,674.9 1275.5,674.2 1276.7,673.5 1277.9,674.3 1279.1,674.1 1280.3,675.0 1281.5,674.9 1282.7,675.0 1284.0,676.0 1285.2,675.8 1286.4,674.7 1287.6,674.8 1288.8,676.1 1290.0,676.1 1291.3,676.3 1292.5,676.2 1293.7,675.5 1294.9,676.4 1296.1,677.2 1297.3,676.9 1298.5,676.0 1299.8,676.3 1301.0,677.9 1302.2,677.3 1303.4,676.8 1304.6,677.9 1305.8,678.4 1307.0,678.5 1308.3,678.2 1309.5,678.6 1310.7,677.5 1311.9,678.3 1313.1,679.0 1314.3,678.3 1315.6,678.1 1316.8,679.5 1318.0,679.4 1319.2,678.3 1320.4,678.5 1321.6,679.5 1322.9,680.4 1324.1,679.9 1325.3,680.5 1326.5,679.2 1327.7,680.2 1328.9,679.6 1330.2,680.0 1331.4,679.9 1332.6,680.6 1333.8,679.9 1335.0,681.2 1336.3,681.3 1337.5,681.9 1338.7,681.8 1339.9,680.6 1341.1,682.2 1342.3,681.8 1343.6,682.6 1344.8,681.9 1346.0,681.3 1347.2,682.6 1348.4,681.7 1349.6,683.3 1350.9,682.6 1352.1,683.4 1353.3,682.8 1354.5,682.6 1355.7,683.4 1356.9,683.6 1358.2,683.2 1359.4,683.0 1360.6,683.4 1361.8,684.1 1363.0,683.3 1364.2,683.3 1365.4,684.0 1366.7,684.5 1367.9,683.5 1369.1,684.0 1370.3,685.4 1371.5,684.2 1372.7,685.2 1373.9,684.5 1375.2,684.2 1376.4,685.1 1377.6,685.9 1378.8,685.8 1380.0,684.6 1381.2,685.9 1382.5,685.9 1383.7,685.8 1384.9,686.2 1386.1,686.1 1387.3,685.6 1388.5,686.6 1389.7,685.7 1390.9,686.1 1392.2,687.2 1393.4,686.8 1394.6,686.8 1395.8,687.3 1397.0,687.0 1398.2,686.9 1399.4,687.3 1400.7,686.5 1401.9,687.2 1403.1,686.7 1404.3,688.6 1405.5,688.5 1406.7,688.2 1408.0,687.4 1409.2,688.7 1410.4,687.8 1411.6,688.9 1412.8,688.7 1414.0,688.7 1415.2,689.1 1416.5,688.4 1417.7,689.5 1418.9,689.1 1420.1,689.6 1421.3,689.8 1422.5,688.9 1423.7,689.3 1425.0,689.3 1426.2,688.9 1427.4,690.4 1428.6,690.2 1429.8,690.0 1431.0,690.2 1432.3,690.9 1433.5,689.5 1434.7,690.2 1435.9,690.9 1437.1,690.7 1438.3,690.8 1439.6,690.4 1440.8,690.5 1442.0,691.4 1443.2,690.9 1444.4,692.1 1445.6,692.2 1446.9,692.4 1448.1,691.2 1449.3,691.8 1450.5,691.2 1451.7,691.7 1452.9,691.3 1454.2,692.2 1455.4,693.1 1456.6,692.9 1457.8,692.3 1459.0,692.2 1460.2,693.5 1461.5,692.1 1462.7,693.6 1463.9,693.7 1465.1,692.4 1466.3,694.1 1467.5,693.7 1468.8,693.3 1470.0,693.5 1471.2,693.9 1472.4,693.9 1473.6,694.6 1474.8,694.8 1476.1,693.9 1477.3,693.4 1478.5,694.9 1479.7,694.8 1480.9,694.9 1482.1,694.0 1483.3,694.1 1484.5,695.7 1485.7,694.8 1486.9,695.1 1488.1,696.1 1489.3,694.8 1490.5,695.7 1491.7,694.8 1492.9,695.8 1494.1,696.2 1495.3,695.3 1496.5,696.5 1497.7,697.0 1498.9,696.8 1500.1,696.9 1501.3,697.3 1502.5,697.0 1503.7,696.8 1504.9,697.4 1506.1,697.4 1507.3,697.2 1508.5,697.4 1509.7,696.6 1510.9,697.0 1512.1,697.1 1513.3,698.2 1514.5,698.1 1515.7,697.4 1516.9,698.7 1518.1,697.2 1519.3,697.3 1520.6,697.9 1521.8,697.5 1523.1,699.2 1524.3,698.3 1525.6,698.4 1526.8,699.4 1528.1,698.9 1529.4,699.2 1530.6,698.9 1531.9,699.1 1533.1,700.1 1534.4,699.0 1535.6,699.5 1536.9,699.6 1538.1,699.0 1539.4,699.2 1540.6,699.9 1541.8,700.5 1543.1,700.0 1544.3,699.4 1545.5,701.1 1546.8,699.7 1548.0,701.2 1549.2,699.7 1550.6,700.9 1552.0,700.1 1553.3,700.4 1554.7,700.8 1556.0,701.5 1557.4,701.0 1558.8,701.1 1560.0,701.1 1561.3,701.5 1562.5,701.1 1563.8,702.4 1565.0,701.2 1566.3,701.1 1567.5,702.0 1568.8,701.7 1570.0,702.5 1571.2,701.4 1572.4,702.6 1573.7,702.2 1574.9,703.3 1576.1,702.3 1577.3,702.7 1578.5,702.6 1579.8,703.1 1581.0,702.7 1582.2,703.6 1583.4,703.2 1584.6,703.8 1585.9,703.2 1587.1,703.6 1588.4,703.9 1589.7,704.4 1590.9,704.4 1592.2,704.1 1593.4,703.6 1594.7,703.8 1595.9,703.9 1597.2,704.1 1598.5,704.3 1599.7,705.2 1601.0,704.8 1602.2,705.9 1603.5,704.8 1604.7,704.9 1605.9,704.9 1607.2,705.0 1608.4,706.1 1609.7,706.0 1610.9,705.5 1612.2,706.6 1613.4,706.5 1614.7,706.1 1615.9,706.6 1617.2,706.8 1618.4,706.5 1619.6,706.0 1620.9,706.5 1622.1,707.7 1623.4,706.7 1624.6,707.3 1625.9,706.4 1627.1,707.7 1628.4,708.0 1629.6,707.2 1630.9,707.3 1632.1,707.6 1633.4,707.2 1634.6,707.2 1635.8,707.2 1637.1,708.3 1638.3,708.0 1639.6,708.9 1640.8,709.0 1642.0,708.9 1643.3,709.1 1644.5,709.0 1645.8,707.6 1647.0,707.9 1648.2,709.5 1649.5,709.4 1650.7,709.0 1651.9,709.1 1653.2,708.8 1654.4,708.9 1655.7,708.5 1656.9,709.3 1658.1,708.9 1659.4,708.7 1660.6,710.1 1661.8,709.7 1663.1,710.3 1664.3,709.3 1665.6,709.9 1666.8,709.4 1668.0,710.5 1669.3,709.5 1670.5,710.4 1671.7,710.3 1673.0,709.9 1674.2,709.6 1675.5,710.4 1676.7,710.5 1677.9,711.2 1679.1,710.1 1680.3,710.2 1681.6,710.5 1682.8,711.5 1684.0,710.6 1685.2,711.4 1686.4,710.4 1687.6,710.6 1688.9,711.8 1690.1,711.5 1691.3,710.9 1692.5,711.6 1693.7,712.5 1694.9,711.6 1696.2,712.0 1697.4,711.9 1698.6,712.1 1699.8,711.4 1701.0,713.0 1702.2,712.5 1703.5,712.2 1704.7,712.2 1705.9,712.1 1707.1,713.5 1708.3,713.5 1709.6,712.7 1710.8,713.2 1712.0,713.2 1713.2,712.7 1714.4,712.5 1715.6,713.8 1716.9,712.9 1718.1,713.7 1719.3,712.8 1720.5,712.9 1721.7,713.2 1722.9,714.2 1724.2,714.2 1725.4,714.9 1726.6,714.4 1727.8,714.2 1729.0,713.4 1730.2,715.2 1731.5,714.4 1732.7,715.2 1733.9,713.8 1735.1,715.3 1736.3,714.7 1737.5,714.3 1738.7,714.7 1740.0,714.2 1741.2,715.2 1742.4,714.6 1743.6,715.5 1744.8,714.6 1746.0,715.6 1747.2,715.6 1748.5,715.8 1749.7,716.3 1750.9,715.2 1752.1,715.9 1753.3,715.5 1754.5,716.4 1755.8,716.4 1757.0,716.3 1758.2,716.1 1759.4,715.5 1760.6,716.7 1761.8,716.9 1763.0,716.9 1764.2,715.9 1765.5,716.8 1766.7,716.6 1767.9,716.9 1769.1,716.9 1770.3,716.4 1771.5,716.3 1772.7,717.1 1774.0,716.9 1775.2,716.7 1776.4,717.4 1777.6,715.9 1778.8,715.9 1780.0,716.8 1781.3,716.2 1782.5,717.6 1783.7,716.3 1784.9,717.8 1786.1,716.7 1787.3,716.6 1788.5,717.7 1789.8,717.7 1791.0,717.2 1792.2,717.6 1793.4,717.6 1794.6,718.4 1795.8,717.6 1797.0,717.8 1798.3,717.7 1799.5,717.7 1800.7,718.2 1801.9,717.2 1803.1,718.3 1804.3,718.8 1805.6,718.6 1806.8,718.3 1808.0,718.0 1809.2,717.6 1810.4,717.6 1811.6,718.5 1812.9,719.2 1814.1,719.2 1815.3,718.1 1816.5,719.1 1817.7,719.3 1818.9,718.8 1820.2,719.5 1821.4,718.4 1822.6,718.7 1823.8,719.1 1825.0,719.5 1826.3,719.1 1827.5,718.9 1828.7,720.0 1829.9,719.2 1831.1,719.3 1832.3,719.0 1833.6,719.6 1834.8,720.0 1836.0,719.5 1837.2,720.1 1838.4,719.8 1839.6,719.1 1840.9,720.8 1842.1,719.7 1843.3,720.2 1844.5,721.0 1845.7,719.7 1846.9,719.5 1848.2,719.9 1849.4,719.8 1850.6,721.2 1851.8,720.6 1853.0,719.8 1854.2,720.3 1855.4,720.8 1856.7,720.3 1857.9,720.6 1859.1,721.8 1860.3,721.0 1861.5,720.7 1862.7,721.4 1863.9,720.6 1865.2,721.4 1866.4,721.7 1867.6,720.8 1868.8,721.7 1870.0,721.3 1871.2,722.2 1872.5,722.0 1873.7,722.7 1874.9,722.2 1876.1,721.5 1877.3,721.6 1878.5,722.6 1879.7,722.8 1880.9,721.6 1882.2,722.3 1883.4,722.1 1884.6,722.5 1885.8,723.3 1887.0,722.9 1888.2,723.3 1889.4,723.4 1890.7,722.6 1891.9,723.3 1893.1,722.9 1894.3,723.1 1895.5,723.3 1896.7,723.6 1898.0,722.8 1899.2,724.1 1900.4,722.9 1901.6,723.3 1902.8,724.3 1904.0,724.6 1905.2,723.6 1906.5,724.7 1907.7,723.1 1908.9,724.8 1910.1,723.6 1911.3,723.3 1912.5,724.7 1913.7,723.7 1915.0,724.8 1916.2,723.5 1917.4,723.8 1918.6,724.3 1919.8,723.9 1921.0,724.6 1922.3,724.4 1923.5,725.2 1924.7,724.8 1925.9,725.7 1927.1,725.6 1928.3,724.4 1929.6,725.8 1930.8,725.9 1932.0,725.3 1933.2,725.3 1934.4,724.7 1935.6,725.1 1936.9,724.9 1938.1,725.0 1939.3,725.8 1940.5,725.3 1941.7,726.2 1942.9,725.9 1944.2,726.4 1945.4,725.1 1946.6,726.5 1947.8,726.0 1949.0,726.3 1950.2,725.6 1951.5,726.5 1952.7,726.0 1953.9,726.6 1955.1,726.4 1956.3,725.7 1957.5,726.0 1958.8,726.9 1960.0,725.6 1961.2,726.8 1962.4,726.7 1963.6,727.1 1964.8,726.4 1966.1,726.7 1967.3,726.8 1968.5,727.3 1969.7,726.2 1970.9,727.0 1972.1,726.6 1973.3,727.3 1974.5,726.7 1975.8,726.7 1977.0,726.8 1978.2,728.0 1979.4,727.1 1980.6,728.1 1981.8,727.9 1983.0,727.1 1984.2,727.7 1985.4,726.8 1986.6,728.5 1987.8,728.0 1989.1,727.1 1990.3,727.9 1991.5,727.9 1992.7,728.3 1993.9,727.6 1995.1,728.8 1996.3,728.3 1997.5,727.4 1998.7,728.8 1999.9,729.0 2001.1,728.0 2002.4,728.7 2003.6,729.1 2004.8,729.2 2006.0,727.7 2007.2,729.2 2008.4,728.2 2009.6,729.2 2010.8,729.1 2012.1,728.7 2013.3,729.6 2014.5,729.4 2015.8,729.8 2017.0,729.8 2018.3,729.2 2019.5,729.5 2020.7,729.4 2022.0,729.0 2023.2,729.2 2024.4,729.3 2025.7,728.8 2026.9,729.0 2028.2,730.1 2029.5,730.1 2030.8,729.9 2032.1,730.0 2033.4,729.7 2034.7,729.9 2036.0,730.1 2037.3,728.9 2038.6,729.8 2039.8,730.8 2041.1,729.5 2042.3,730.0 2043.5,729.3 2044.7,729.7 2045.9,730.8 2047.1,729.4 2048.3,730.8 2049.5,730.9 2050.8,731.1 2052.1,730.0 2053.4,731.3 2054.7,730.3 2056.0,730.6" fill="none" stroke="#FF8229" stroke-width="7.8" stroke-linejoin="round" stroke-linecap="butt" />
</g>
</g>
<g stroke="#0000A6" fill="none">
<path d="M325.1,300 V1476.5" stroke-width="2.3" stroke-dasharray="7.4 2.4 2.4 2.52" stroke-dashoffset="9.6"/>
<path d="M409.6,134 V1480" stroke-width="3.3" stroke-dasharray="7.5 2.4 1.8 3.02" stroke-dashoffset="1.2"/>
</g>
<g stroke="#0000A6" stroke-width="2.2">
<path d="M409,134 H834"/>
<path d="M326,300 H965"/>
</g>
<circle cx="408.6" cy="134" r="6.2" fill="#0000A6"/>
<circle cx="326.6" cy="300" r="6.2" fill="#0000A6"/>
<path d="M1091,980 V755" stroke="#000" stroke-width="6.3" stroke-dasharray="25.8 23.8" fill="none"/>
<path d="M1091.3,707 Q1093.5,707 1094.2,710 L1103.4,745 Q1103.8,748 1101,748 L1081.6,748 Q1079,748 1079.4,745 L1088.6,710 Q1089.3,707 1091.3,707 Z" fill="#000"/>
<path d="M1562.5,127.5 H1709" stroke="#FF9549" stroke-width="7.5" stroke-linecap="round"/>
<text id="lg0" x="1726.5" y="150" font-size="66.5">1800 min</text>
<path d="M1562.5,208.5 H1709" stroke="#FF2B52" stroke-width="7.5" stroke-linecap="round"/>
<text id="lg1" x="1726.5" y="231" font-size="66.5">1500 min</text>
<path d="M1562.5,289.5 H1709" stroke="#FDD444" stroke-width="7.5" stroke-linecap="round"/>
<text id="lg2" x="1726.5" y="312" font-size="66.5">600 min</text>
<path d="M1562.5,370.5 H1709" stroke="#598D14" stroke-width="7.5" stroke-linecap="round"/>
<text id="lg3" x="1726.5" y="393" font-size="66.5">300 min</text>
<path d="M1562.5,451.5 H1709" stroke="#005322" stroke-width="7.5" stroke-linecap="round"/>
<text id="lg4" x="1726.5" y="474" font-size="66.5">160 min</text>
<text class="yt" x="232.6" y="191.9" font-size="62.5" text-anchor="end">2.5</text>
<text class="yt" x="232.6" y="420.9" font-size="62.5" text-anchor="end">2.0</text>
<text class="yt" x="232.6" y="649.9" font-size="62.5" text-anchor="end">1.5</text>
<text class="yt" x="232.6" y="1103.1" font-size="62.5" text-anchor="end">0.4</text>
<text class="xt" x="269.4" y="1560" font-size="62" text-anchor="middle">200</text>
<text class="xt" x="468.0" y="1560" font-size="62" text-anchor="middle">300</text>
<text class="xt" x="666.5" y="1560" font-size="62" text-anchor="middle">400</text>
<text class="xt" x="865.1" y="1560" font-size="62" text-anchor="middle">500</text>
<text class="xt" x="1063.7" y="1560" font-size="62" text-anchor="middle">600</text>
<text class="xt" x="1262.2" y="1560" font-size="62" text-anchor="middle">700</text>
<text class="xt" x="1460.8" y="1560" font-size="62" text-anchor="middle">800</text>
<text class="xt" x="1659.4" y="1560" font-size="62" text-anchor="middle">900</text>
<text class="xt" x="1858.0" y="1560" font-size="62" text-anchor="middle">1000</text>
<text class="xt" x="2056.5" y="1560" font-size="62" text-anchor="middle">1100</text>
<text id="xl" x="1159.5" y="1676" font-size="75.6" text-anchor="middle">Wavelength (nm)</text>
<text id="yl" transform="translate(79.6,729.3) rotate(-90)" font-size="75.2" text-anchor="middle">Absorbance (a.u.)</text>
<text id="ti" x="970.5" y="129.6" font-size="81.5">Graphite EE</text>
<text id="a1" x="581.2" y="117.4" font-size="68.6">268 nm</text>
<text id="a2" x="704.2" y="277" font-size="68.6">228 nm</text>
<text id="tm" transform="translate(1027,850) rotate(-90)" font-size="83" text-anchor="middle">Time</text>
</svg>
</body></html>
